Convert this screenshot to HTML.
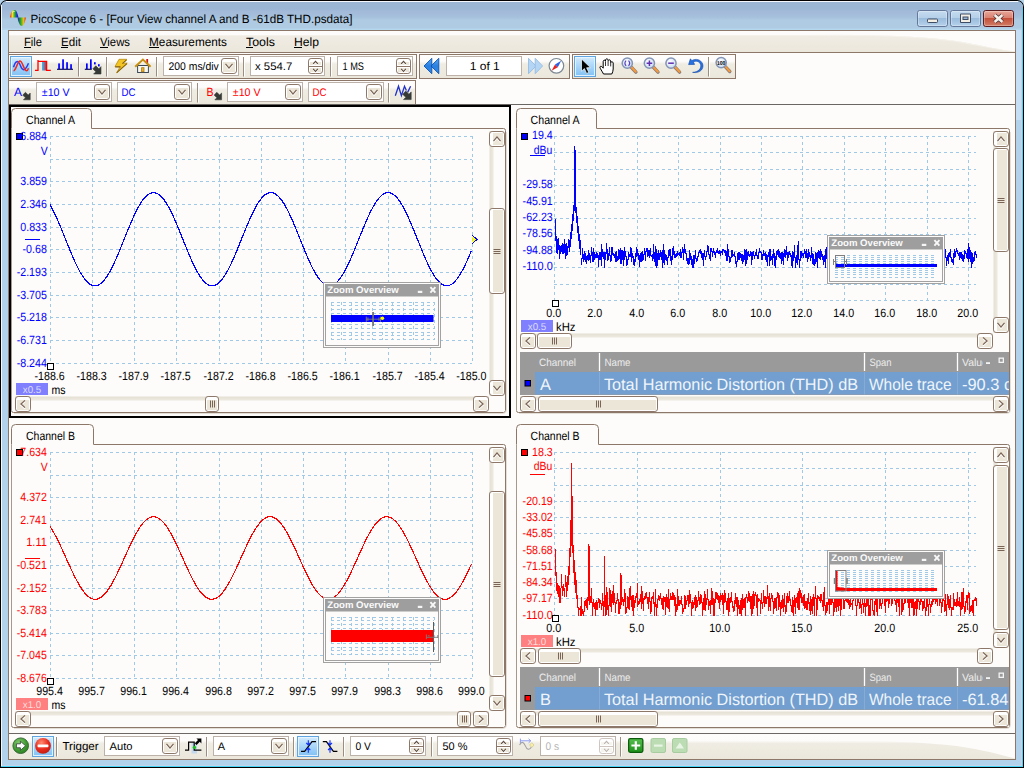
<!DOCTYPE html>
<html lang="en">
<head>
<meta charset="utf-8">
<title>PicoScope 6 - [Four View channel A and B -61dB THD.psdata]</title>
<style>
html,body{margin:0;padding:0;background:#b4d3ea;overflow:hidden}
svg{display:block;font-family:'Liberation Sans', Arial, sans-serif;text-rendering:geometricPrecision}
text{white-space:pre}
</style>
</head>
<body>
<svg width="1024" height="768" viewBox="0 0 1024 768">
<defs>
<linearGradient id="gTitle" x1="0" y1="0" x2="0" y2="1"><stop offset="0" stop-color="#9bb6d5"/><stop offset="0.28" stop-color="#9bb6d5"/><stop offset="0.36" stop-color="#a3bad9"/><stop offset="0.5" stop-color="#a4bedb"/><stop offset="0.58" stop-color="#a6c3dd"/><stop offset="0.66" stop-color="#afcae3"/><stop offset="0.93" stop-color="#afcae3"/><stop offset="0.97" stop-color="#b5d8ef"/><stop offset="1" stop-color="#b5d8ef"/></linearGradient>
<linearGradient id="gMenu" x1="0" y1="0" x2="0" y2="1"><stop offset="0" stop-color="#fdfcfa"/><stop offset="0.2" stop-color="#fdfcfa"/><stop offset="0.24" stop-color="#f0ece4"/><stop offset="1" stop-color="#ebe7db"/></linearGradient>
<linearGradient id="gBar" x1="0" y1="0" x2="0" y2="1"><stop offset="0" stop-color="#fefdfc"/><stop offset="0.28" stop-color="#fdfcfa"/><stop offset="0.4" stop-color="#efece3"/><stop offset="1" stop-color="#ebe7db"/></linearGradient>
<linearGradient id="gBtn" x1="0" y1="0" x2="0" y2="1"><stop offset="0" stop-color="#ffffff"/><stop offset="0.45" stop-color="#f6f4ee"/><stop offset="0.5" stop-color="#eeebe1"/><stop offset="1" stop-color="#e6e1d3"/></linearGradient>
<linearGradient id="gBtnH" x1="0" y1="0" x2="1" y2="0"><stop offset="0" stop-color="#ffffff"/><stop offset="0.45" stop-color="#f6f4ee"/><stop offset="0.5" stop-color="#eeebe1"/><stop offset="1" stop-color="#e6e1d3"/></linearGradient>
<linearGradient id="gSel" x1="0" y1="0" x2="0" y2="1"><stop offset="0" stop-color="#d7ecfc"/><stop offset="0.35" stop-color="#b5dcfa"/><stop offset="1" stop-color="#7fbff3"/></linearGradient>
<linearGradient id="gTrackV" x1="0" y1="0" x2="1" y2="0"><stop offset="0" stop-color="#e4dfd2"/><stop offset="0.6" stop-color="#ece8de"/><stop offset="1" stop-color="#fdfcfb"/></linearGradient>
<linearGradient id="gTrackH" x1="0" y1="0" x2="0" y2="1"><stop offset="0" stop-color="#e4dfd2"/><stop offset="0.6" stop-color="#ece8de"/><stop offset="1" stop-color="#fdfcfb"/></linearGradient>
<linearGradient id="gCapBtn" x1="0" y1="0" x2="0" y2="1"><stop offset="0" stop-color="#c6dcf0"/><stop offset="0.48" stop-color="#b4cfe8"/><stop offset="0.5" stop-color="#9bbcdc"/><stop offset="1" stop-color="#b6d2ec"/></linearGradient>
<linearGradient id="gClose" x1="0" y1="0" x2="0" y2="1"><stop offset="0" stop-color="#e9a99c"/><stop offset="0.48" stop-color="#d9806f"/><stop offset="0.5" stop-color="#c4503a"/><stop offset="1" stop-color="#d27f68"/></linearGradient>
<linearGradient id="gRain" x1="0" y1="0" x2="1" y2="0"><stop offset="0" stop-color="#e8201c"/><stop offset="0.3" stop-color="#f4e020"/><stop offset="0.55" stop-color="#28b428"/><stop offset="0.8" stop-color="#2030d8"/><stop offset="1" stop-color="#1818a0"/></linearGradient>
<linearGradient id="gRain2" x1="0" y1="0" x2="1" y2="0"><stop offset="0" stop-color="#1818c0"/><stop offset="0.35" stop-color="#20a828"/><stop offset="0.7" stop-color="#e8c020"/><stop offset="1" stop-color="#e02818"/></linearGradient>
<linearGradient id="gPulse" x1="0" y1="0" x2="1" y2="0"><stop offset="0" stop-color="#28c0ff"/><stop offset="1" stop-color="#e02030"/></linearGradient>
<linearGradient id="gNav" x1="0" y1="0" x2="0" y2="1"><stop offset="0" stop-color="#58a8f4"/><stop offset="0.5" stop-color="#2a80e0"/><stop offset="1" stop-color="#2f8ae8"/></linearGradient>
<radialGradient id="gLens" cx=".4" cy=".35" r=".7"><stop offset="0" stop-color="#ffffff"/><stop offset="1" stop-color="#c4d8f0"/></radialGradient>
<radialGradient id="gGo" cx=".4" cy=".35" r=".75"><stop offset="0" stop-color="#8fd07a"/><stop offset="0.6" stop-color="#3e9a30"/><stop offset="1" stop-color="#257820"/></radialGradient>
<radialGradient id="gStop" cx=".4" cy=".3" r=".8"><stop offset="0" stop-color="#ff8a70"/><stop offset="0.55" stop-color="#e82a1c"/><stop offset="1" stop-color="#b81810"/></radialGradient>
<linearGradient id="gPlus" x1="0" y1="0" x2="0" y2="1"><stop offset="0" stop-color="#58c050"/><stop offset="1" stop-color="#1c9018"/></linearGradient>
</defs>
<rect x="0" y="0" width="1024" height="768" rx="7" fill="#000" />
<rect x="0" y="20" width="1024" height="748" rx="0" fill="#000" />
<rect x="1" y="1" width="1022" height="766" rx="6" fill="#b4d3ea" />
<rect x="1" y="20" width="1022" height="747" rx="0" fill="#b4d3ea" />
<rect x="1" y="1" width="1022" height="29" rx="6" fill="url(#gTitle)" />
<rect x="1" y="10" width="1022" height="20" rx="0" fill="url(#gTitle2)" />
<rect x="1" y="30" width="8" height="90" rx="0" fill="#c6dff4" />
<rect x="1015" y="30" width="8" height="90" rx="0" fill="#c6dff4" />
<rect x="1" y="120" width="8" height="647" rx="0" fill="#b1d2ea" />
<rect x="1015" y="120" width="8" height="647" rx="0" fill="#b1d2ea" />
<rect x="1" y="760" width="1022" height="7" rx="0" fill="#b1d2ea" />
<line x1="6" y1="1.5" x2="1018" y2="1.5" stroke="#f4f8fc" stroke-width="1" />
<line x1="1.5" y1="5" x2="1.5" y2="766" stroke="#f2f7fc" stroke-width="1" />
<line x1="1022.5" y1="8" x2="1022.5" y2="767" stroke="#46d4f6" stroke-width="1" />
<line x1="1" y1="766.5" x2="1023" y2="766.5" stroke="#46d4f6" stroke-width="1" />
<line x1="1021.5" y1="30" x2="1021.5" y2="766" stroke="#c2d4ea" stroke-width="1" />
<line x1="2" y1="765.5" x2="1022" y2="765.5" stroke="#c2d4ea" stroke-width="1" />
<rect x="8.5" y="30.5" width="1007" height="729" rx="0" fill="#fdfcfa" stroke="#8c7768" stroke-width="1" />
<path d="M10,17.5 C11,11 13,10 14.5,10 C16.5,10 17.5,13 18.5,17.5 Z" fill="url(#gRain)"/>
<path d="M17.5,17.5 C18.5,23 20,26 21.8,26 C23.5,26 25,22 26,17.5 Z" fill="url(#gRain2)"/>
<path d="M12,13 C13,10.5 15,10.5 15.5,12 C14.5,11.5 13,12 12,13Z" fill="#fff" opacity=".7"/>
<text x="30.5" y="23" font-size="12" fill="#000" textLength="322" lengthAdjust="spacingAndGlyphs" >PicoScope 6 - [Four View channel A and B -61dB THD.psdata]</text>
<rect x="917.5" y="10.5" width="30" height="16" rx="2.2" fill="url(#gCapBtn)" stroke="#64789a" stroke-width="1" />
<rect x="918.5" y="11.5" width="28" height="14" rx="1.5" fill="none" stroke="#fff" stroke-opacity=".3"/>
<rect x="927.5" y="19" width="10" height="3.5" rx="0.8" fill="#f4efe4" stroke="#3e4c64" stroke-width="1" />
<rect x="950.5" y="10.5" width="30" height="16" rx="2.2" fill="url(#gCapBtn)" stroke="#64789a" stroke-width="1" />
<rect x="951.5" y="11.5" width="28" height="14" rx="1.5" fill="none" stroke="#fff" stroke-opacity=".3"/>
<rect x="960" y="13.5" width="11" height="9.5" rx="1" fill="#3e4c64" />
<rect x="961" y="14.5" width="9" height="7.5" rx="0" fill="#f4efe4" />
<rect x="963" y="17" width="5" height="2.5" rx="0" fill="#9ab6d6" stroke="#3e4c64" stroke-width="1" />
<rect x="983.5" y="10.5" width="30" height="16" rx="2.2" fill="url(#gClose)" stroke="#5c1c20" stroke-width="1" />
<rect x="984.5" y="11.5" width="28" height="14" rx="1.5" fill="none" stroke="#fff" stroke-opacity=".3"/>
<path d="M994.6,15 L1002.4,22 M1002.4,15 L994.6,22" stroke="#4e3236" stroke-width="4.2"/>
<path d="M994.6,15 L1002.4,22 M1002.4,15 L994.6,22" stroke="#f4efe8" stroke-width="2.6"/>
<rect x="8.5" y="30.5" width="1007" height="22" rx="0" fill="url(#gMenu)" stroke="#8c7768" stroke-width="1" />
<path d="M840,31 L1015,31 L1015,51.5 C1000,50 985,46 960,41.5 C930,37 890,35 840,34.8 Z" fill="#fdfcfa"/>
<path d="M800,35 C880,35.4 930,37.5 960,42.5 C985,47 1000,50.5 1015,51.8 L1015,51.5 C1000,50 985,46 960,41.5 C930,37 890,35 840,34.8 Z" fill="#f5f2ec"/>
<text x="24" y="46" font-size="12" fill="#000" textLength="18" lengthAdjust="spacingAndGlyphs" >File</text>
<line x1="24" y1="47.5" x2="31" y2="47.5" stroke="#000" stroke-width="1" />
<text x="61" y="46" font-size="12" fill="#000" textLength="20" lengthAdjust="spacingAndGlyphs" >Edit</text>
<line x1="61" y1="47.5" x2="68" y2="47.5" stroke="#000" stroke-width="1" />
<text x="100" y="46" font-size="12" fill="#000" textLength="30" lengthAdjust="spacingAndGlyphs" >Views</text>
<line x1="100" y1="47.5" x2="108" y2="47.5" stroke="#000" stroke-width="1" />
<text x="149" y="46" font-size="12" fill="#000" textLength="78" lengthAdjust="spacingAndGlyphs" >Measurements</text>
<line x1="149" y1="47.5" x2="159" y2="47.5" stroke="#000" stroke-width="1" />
<text x="246" y="46" font-size="12" fill="#000" textLength="29" lengthAdjust="spacingAndGlyphs" >Tools</text>
<line x1="246" y1="47.5" x2="253" y2="47.5" stroke="#000" stroke-width="1" />
<text x="294" y="46" font-size="12" fill="#000" textLength="25" lengthAdjust="spacingAndGlyphs" >Help</text>
<line x1="294" y1="47.5" x2="302" y2="47.5" stroke="#000" stroke-width="1" />
<rect x="8.5" y="54.5" width="408" height="24" rx="0" fill="url(#gBar)" stroke="#8c7768" stroke-width="1" />
<rect x="419.5" y="54.5" width="150" height="24" rx="0" fill="url(#gBar)" stroke="#8c7768" stroke-width="1" />
<rect x="572.5" y="54.5" width="163" height="24" rx="0" fill="url(#gBar)" stroke="#8c7768" stroke-width="1" />
<rect x="10.5" y="56.5" width="21" height="20" rx="0" fill="url(#gSel)" stroke="#5fa5e2" stroke-width="1" />
<rect x="11.5" y="57.5" width="19" height="18" fill="none" stroke="#eaf5fe" stroke-opacity=".9"/>
<path d="M13.5,67.3 C15.5,60 18,60 20.5,65.8 C22.5,71.2 25,71.6 28.5,63.2" fill="none" stroke="#2a3cf0" stroke-width="1.5"/>
<path d="M13.5,70.8 C16,70.8 17.5,61 20,61 C22.5,61 24,70.8 26.5,70.8 C27.5,70.8 28,69.8 28.5,68.3" fill="none" stroke="#f02818" stroke-width="1.5"/>
<rect x="42" y="61.5" width="4.5" height="9" rx="0" fill="url(#gPulse)" />
<path d="M35,70.4 H38 V60 M38,61.3 H46.6 V70.4 H50.8" fill="none" stroke="#ff0000" stroke-width="1.3"/>
<rect x="58.2" y="63.4" width="1.7" height="5.6" rx="0" fill="#0000ff" />
<rect x="62.2" y="59.3" width="1.7" height="9.7" rx="0" fill="#0000ff" />
<rect x="66.2" y="62.2" width="1.7" height="6.8" rx="0" fill="#0000ff" />
<rect x="70.2" y="64.2" width="1.7" height="4.8" rx="0" fill="#0000ff" />
<line x1="57" y1="69.3" x2="73" y2="69.3" stroke="#101060" stroke-width="1.2" />
<line x1="78.5" y1="57" x2="78.5" y2="76.5" stroke="#9c8d80" stroke-width="1" />
<line x1="79.5" y1="57" x2="79.5" y2="76.5" stroke="#ffffff" stroke-width="1" />
<rect x="86" y="63.4" width="1.7" height="5.6" rx="0" fill="#0000ff" />
<rect x="90" y="59.3" width="1.7" height="9.7" rx="0" fill="#0000ff" />
<rect x="94" y="62.2" width="1.7" height="2.2" rx="0" fill="#0000ff" />
<rect x="98" y="64.2" width="1.7" height="2.2" rx="0" fill="#0000ff" />
<line x1="84.8" y1="69.3" x2="91.8" y2="69.3" stroke="#101060" stroke-width="1.2" />
<path d="M101,74 l-7.359999999999999,0 l2.1849999999999996,-2.1849999999999996 l-2.9899999999999998,-2.9899999999999998 l2.9899999999999998,-2.9899999999999998 l2.9899999999999998,2.9899999999999998 l2.1849999999999996,-2.1849999999999996 z" fill="#363a36" stroke="#363a36" stroke-width=".6" stroke-linejoin="round"/>
<line x1="106.5" y1="57" x2="106.5" y2="76.5" stroke="#9c8d80" stroke-width="1" />
<line x1="107.5" y1="57" x2="107.5" y2="76.5" stroke="#ffffff" stroke-width="1" />
<path d="M119,59.3 L126.8,59.3 L122.8,63.2 L127.2,63.2 L116.6,72.8 L120.3,66.6 L115,66.6 Z" fill="#f2c424" stroke="#b88a10" stroke-width=".8"/>
<path d="M126.6,59.8 L122.4,63.6 M127,63.7 L116.8,72.6 M115.2,66.9 L120.4,66.9" fill="none" stroke="#8a6408" stroke-width="1.1"/>
<rect x="137.6" y="65.5" width="10.8" height="7" fill="#f6f8f4" stroke="#3c4858" stroke-width="1"/>
<rect x="146.3" y="59" width="1.8" height="4.5" rx="0" fill="#d01818" />
<path d="M135.2,66.8 L142.9,59.6 L150.6,66.8" fill="none" stroke="#c89010" stroke-width="2"/>
<rect x="141.6" y="67.7" width="2.4" height="4" rx="0" fill="#e8b030" stroke="#b07808" stroke-width="0.8" />
<line x1="156.5" y1="57" x2="156.5" y2="76.5" stroke="#9c8d80" stroke-width="1" />
<line x1="157.5" y1="57" x2="157.5" y2="76.5" stroke="#ffffff" stroke-width="1" />
<rect x="163.5" y="56.5" width="75" height="19" rx="0" fill="#fff" stroke="#bcb2aa" stroke-width="1" />
<text x="168.5" y="70" font-size="11" fill="#000" textLength="50.3" lengthAdjust="spacingAndGlyphs" >200 ms/div</text>
<rect x="221.5" y="58.5" width="15" height="15" rx="2.6" fill="#ffffff" stroke="#8c7768" stroke-width="1" />
<rect x="223" y="62" width="12" height="10" rx="0" fill="#ece6d9" />
<path d="M225.5,65.1 L229.0,69.3 L232.5,65.1" fill="none" stroke="#fff" stroke-width="1.25"/>
<path d="M225.5,63.9 L229.0,68.1 L232.5,63.9" fill="none" stroke="#7a6456" stroke-width="1.25"/>
<line x1="243.5" y1="57" x2="243.5" y2="76.5" stroke="#9c8d80" stroke-width="1" />
<line x1="244.5" y1="57" x2="244.5" y2="76.5" stroke="#ffffff" stroke-width="1" />
<rect x="250.5" y="56.5" width="74" height="19" rx="0" fill="#fff" stroke="#bcb2aa" stroke-width="1" />
<text x="255" y="70" font-size="11" fill="#000" textLength="37.3" lengthAdjust="spacingAndGlyphs" >x 554.7</text>
<g>
<rect x="308.5" y="58.5" width="14" height="15" rx="2.6" fill="#fff" stroke="#8c7768" stroke-width="1" />
<rect x="310" y="62" width="11" height="3" rx="0" fill="#ece6d9" />
<rect x="310" y="68" width="11" height="4" rx="0" fill="#ece6d9" />
<line x1="309" y1="66.5" x2="322" y2="66.5" stroke="#8c7768" stroke-width="1" />
<path d="M313.2,65.1 L315.5,62.50000000000001 L317.8,65.1" fill="none" stroke="#fff" stroke-width="1.1"/>
<path d="M313.2,63.9 L315.5,61.300000000000004 L317.8,63.9" fill="none" stroke="#5a4a40" stroke-width="1.1"/>
<path d="M313.2,70.10000000000001 L315.5,72.7 L317.8,70.10000000000001" fill="none" stroke="#fff" stroke-width="1.1"/>
<path d="M313.2,68.9 L315.5,71.5 L317.8,68.9" fill="none" stroke="#5a4a40" stroke-width="1.1"/>
</g>
<line x1="330.5" y1="57" x2="330.5" y2="76.5" stroke="#9c8d80" stroke-width="1" />
<line x1="331.5" y1="57" x2="331.5" y2="76.5" stroke="#ffffff" stroke-width="1" />
<rect x="337.5" y="56.5" width="75" height="19" rx="0" fill="#fff" stroke="#bcb2aa" stroke-width="1" />
<text x="342.5" y="70" font-size="11" fill="#000" textLength="21.5" lengthAdjust="spacingAndGlyphs" >1 MS</text>
<g>
<rect x="396.5" y="58.5" width="14" height="15" rx="2.6" fill="#fff" stroke="#8c7768" stroke-width="1" />
<rect x="398" y="62" width="11" height="3" rx="0" fill="#ece6d9" />
<rect x="398" y="68" width="11" height="4" rx="0" fill="#ece6d9" />
<line x1="397" y1="66.5" x2="410" y2="66.5" stroke="#8c7768" stroke-width="1" />
<path d="M401.2,65.1 L403.5,62.50000000000001 L405.8,65.1" fill="none" stroke="#fff" stroke-width="1.1"/>
<path d="M401.2,63.9 L403.5,61.300000000000004 L405.8,63.9" fill="none" stroke="#5a4a40" stroke-width="1.1"/>
<path d="M401.2,70.10000000000001 L403.5,72.7 L405.8,70.10000000000001" fill="none" stroke="#fff" stroke-width="1.1"/>
<path d="M401.2,68.9 L403.5,71.5 L405.8,68.9" fill="none" stroke="#5a4a40" stroke-width="1.1"/>
</g>
<path d="M424,66 L431.8,58.3 L431.8,73.7 Z" fill="url(#gNav)" stroke="#0c52b4" stroke-width=".9" stroke-linejoin="round"/>
<path d="M431,66 L438.8,58.3 L438.8,73.7 Z" fill="url(#gNav)" stroke="#0c52b4" stroke-width=".9" stroke-linejoin="round"/>
<rect x="446.5" y="56.5" width="75" height="19" rx="0" fill="#fff" stroke="#bcb2aa" stroke-width="1" />
<text x="484.8" y="69.8" font-size="11.5" fill="#000" text-anchor="middle" textLength="30" lengthAdjust="spacingAndGlyphs" >1 of 1</text>
<path d="M536,66 L528.5,58.3 L528.5,73.7 Z" fill="#b4d6f4" stroke="#94bce4" stroke-width=".9" stroke-linejoin="round"/>
<path d="M542.6,66 L535.2,58.3 L535.2,73.7 Z" fill="#b4d6f4" stroke="#94bce4" stroke-width=".9" stroke-linejoin="round"/>
<circle cx="556.4" cy="65.8" r="7.3" fill="#fff" stroke="#7c8894" stroke-width="1.2"/>
<path d="M551.6,70.8 L555,64.6 L557.8,67.2 Z" fill="#e82020"/>
<path d="M561.2,60.8 L557.8,67.2 L555,64.6 Z" fill="#3060e0"/>
<rect x="574.5" y="56.5" width="21" height="20" rx="0" fill="url(#gSel)" stroke="#5fa5e2" stroke-width="1" />
<rect x="575.5" y="57.5" width="19" height="18" fill="none" stroke="#eaf5fe" stroke-opacity=".9"/>
<path d="M581.5,59 L581.5,71.2 L584.4,68.6 L586.6,73.4 L588.8,72.4 L586.6,67.8 L590.4,67.6 Z" fill="#000" stroke="#fff" stroke-width=".7"/>
<path d="M603.5,74 C602,71 600,68.5 599.8,67 C600.5,65.6 602,66.4 603.2,68.2 L603.2,61.2 C603.6,59.8 605.2,59.8 605.4,61.2 L605.6,59.8 C606,58.4 607.8,58.4 608,59.8 L608.2,60.6 C608.8,59.4 610.4,59.6 610.6,61 L610.8,62.4 C611.4,61.4 613,61.6 613.2,63 L613.2,69 C613.2,71 612.4,72.6 611.8,74 Z" fill="#fff" stroke="#000" stroke-width="1"/>
<path d="M605.5,61.5 V66 M608.1,60.8 V66 M610.7,62 V66.4" stroke="#000" stroke-width=".8" fill="none"/>
<path d="M631.0999999999999,67.0 L635.9,72.10000000000001" stroke="#8a7a78" stroke-width="3.4" stroke-linecap="round"/>
<path d="M631.3,67.0 L635.8,71.8" stroke="#f49a3c" stroke-width="2" stroke-linecap="round"/>
<circle cx="627.3" cy="63.2" r="5.1" fill="url(#gLens)" stroke="#8494b4" stroke-width="1.5"/>
<path d="M626.0999999999999,60.6 q-2.4,2.6 0,5.2 M628.5,60.6 q2.4,2.6 0,5.2" stroke="#5a40c0" stroke-width="1.2" fill="none"/>
<path d="M653.1999999999999,67.0 L658.0,72.10000000000001" stroke="#8a7a78" stroke-width="3.4" stroke-linecap="round"/>
<path d="M653.4,67.0 L657.9,71.8" stroke="#f49a3c" stroke-width="2" stroke-linecap="round"/>
<circle cx="649.4" cy="63.2" r="5.1" fill="url(#gLens)" stroke="#8494b4" stroke-width="1.5"/>
<path d="M646.6,63.2 h5.6 M649.4,60.400000000000006 v5.6" stroke="#6030b0" stroke-width="1.5"/>
<path d="M674.8,67.0 L679.6,72.10000000000001" stroke="#8a7a78" stroke-width="3.4" stroke-linecap="round"/>
<path d="M675,67.0 L679.5,71.8" stroke="#f49a3c" stroke-width="2" stroke-linecap="round"/>
<circle cx="671" cy="63.2" r="5.1" fill="url(#gLens)" stroke="#8494b4" stroke-width="1.5"/>
<path d="M668.2,63.2 h5.6" stroke="#6030b0" stroke-width="1.5"/>
<path d="M692.6,72.4 C699,72 701.6,68 700.6,64.6 C699.6,61.4 696,60.4 693.4,62 L694.6,64.4 L688.6,64.6 L690.4,58.8 L691.8,60.6 C695.6,58.2 700.8,59.4 702.6,63.8 C704.2,68.4 700.6,73.6 692.6,72.4 Z" fill="#2870e0" stroke="#1048a8" stroke-width=".6"/>
<line x1="708.5" y1="57" x2="708.5" y2="76.5" stroke="#9c8d80" stroke-width="1" />
<line x1="709.5" y1="57" x2="709.5" y2="76.5" stroke="#ffffff" stroke-width="1" />
<path d="M725.0,66.4 L729.8000000000001,71.5" stroke="#8a7a78" stroke-width="3.4" stroke-linecap="round"/>
<path d="M725.2,66.4 L729.7,71.2" stroke="#f49a3c" stroke-width="2" stroke-linecap="round"/>
<circle cx="721.2" cy="62.6" r="5.1" fill="url(#gLens)" stroke="#8494b4" stroke-width="1.5"/>
<text x="721.2" y="64.6" font-size="5.6" fill="#000" text-anchor="middle" font-weight="bold" textLength="8.4" lengthAdjust="spacingAndGlyphs" >100</text>
<rect x="8.5" y="80.5" width="407" height="24" rx="0" fill="url(#gBar)" stroke="#8c7768" stroke-width="1" />
<text x="14" y="95.6" font-size="12" fill="#0000ff" textLength="8" lengthAdjust="spacingAndGlyphs" >A</text>
<path d="M30.2,99.8 l-6.720000000000001,0 l1.9949999999999999,-1.9949999999999999 l-2.7300000000000004,-2.7300000000000004 l2.7300000000000004,-2.7300000000000004 l2.7300000000000004,2.7300000000000004 l1.9949999999999999,-1.9949999999999999 z" fill="#363a36" stroke="#363a36" stroke-width=".6" stroke-linejoin="round"/>
<rect x="36.5" y="82.5" width="75" height="19" rx="0" fill="#fff" stroke="#bcb2aa" stroke-width="1" />
<text x="41.8" y="95.5" font-size="11" fill="#0000ff" textLength="27.8" lengthAdjust="spacingAndGlyphs" >±10 V</text>
<rect x="94.5" y="84.5" width="15" height="15" rx="2.6" fill="#ffffff" stroke="#8c7768" stroke-width="1" />
<rect x="96" y="88" width="12" height="10" rx="0" fill="#ece6d9" />
<path d="M98.5,91.10000000000001 L102.0,95.3 L105.5,91.10000000000001" fill="none" stroke="#fff" stroke-width="1.25"/>
<path d="M98.5,89.9 L102.0,94.1 L105.5,89.9" fill="none" stroke="#7a6456" stroke-width="1.25"/>
<rect x="117.5" y="82.5" width="74" height="19" rx="0" fill="#fff" stroke="#bcb2aa" stroke-width="1" />
<text x="121.5" y="95.5" font-size="11" fill="#0000ff" textLength="14" lengthAdjust="spacingAndGlyphs" >DC</text>
<rect x="174.5" y="84.5" width="15" height="15" rx="2.6" fill="#ffffff" stroke="#8c7768" stroke-width="1" />
<rect x="176" y="88" width="12" height="10" rx="0" fill="#ece6d9" />
<path d="M178.5,91.10000000000001 L182.0,95.3 L185.5,91.10000000000001" fill="none" stroke="#fff" stroke-width="1.25"/>
<path d="M178.5,89.9 L182.0,94.1 L185.5,89.9" fill="none" stroke="#7a6456" stroke-width="1.25"/>
<line x1="197.5" y1="83" x2="197.5" y2="102.5" stroke="#9c8d80" stroke-width="1" />
<line x1="198.5" y1="83" x2="198.5" y2="102.5" stroke="#ffffff" stroke-width="1" />
<text x="206.6" y="95.6" font-size="12" fill="#ff0000" textLength="7" lengthAdjust="spacingAndGlyphs" >B</text>
<path d="M221.6,99.8 l-6.720000000000001,0 l1.9949999999999999,-1.9949999999999999 l-2.7300000000000004,-2.7300000000000004 l2.7300000000000004,-2.7300000000000004 l2.7300000000000004,2.7300000000000004 l1.9949999999999999,-1.9949999999999999 z" fill="#363a36" stroke="#363a36" stroke-width=".6" stroke-linejoin="round"/>
<rect x="227.5" y="82.5" width="75" height="19" rx="0" fill="#fff" stroke="#bcb2aa" stroke-width="1" />
<text x="232.8" y="95.5" font-size="11" fill="#ff0000" textLength="27.8" lengthAdjust="spacingAndGlyphs" >±10 V</text>
<rect x="285.5" y="84.5" width="15" height="15" rx="2.6" fill="#ffffff" stroke="#8c7768" stroke-width="1" />
<rect x="287" y="88" width="12" height="10" rx="0" fill="#ece6d9" />
<path d="M289.5,91.10000000000001 L293.0,95.3 L296.5,91.10000000000001" fill="none" stroke="#fff" stroke-width="1.25"/>
<path d="M289.5,89.9 L293.0,94.1 L296.5,89.9" fill="none" stroke="#7a6456" stroke-width="1.25"/>
<rect x="308.5" y="82.5" width="75" height="19" rx="0" fill="#fff" stroke="#bcb2aa" stroke-width="1" />
<text x="312.5" y="95.5" font-size="11" fill="#ff0000" textLength="14" lengthAdjust="spacingAndGlyphs" >DC</text>
<rect x="366.5" y="84.5" width="15" height="15" rx="2.6" fill="#ffffff" stroke="#8c7768" stroke-width="1" />
<rect x="368" y="88" width="12" height="10" rx="0" fill="#ece6d9" />
<path d="M370.5,91.10000000000001 L374.0,95.3 L377.5,91.10000000000001" fill="none" stroke="#fff" stroke-width="1.25"/>
<path d="M370.5,89.9 L374.0,94.1 L377.5,89.9" fill="none" stroke="#7a6456" stroke-width="1.25"/>
<line x1="388.5" y1="83" x2="388.5" y2="102.5" stroke="#9c8d80" stroke-width="1" />
<line x1="389.5" y1="83" x2="389.5" y2="102.5" stroke="#ffffff" stroke-width="1" />
<path d="M395.3,95.8 L398.5,86.2 L401.4,95.6 L404.5,86.2 L406.4,90.4 M407.6,92.4 L410.6,86.2" fill="none" stroke="#2030c8" stroke-width="1.3"/>
<path d="M411.2,99.6 l-7.68,0 l2.28,-2.28 l-3.12,-3.12 l3.12,-3.12 l3.12,3.12 l2.28,-2.28 z" fill="#363a36" stroke="#363a36" stroke-width=".6" stroke-linejoin="round"/>
<line x1="9" y1="104.5" x2="1015" y2="104.5" stroke="#6a6664" stroke-width="1" />
<rect x="10" y="106" width="500" height="311" rx="0" fill="none" stroke="#000" stroke-width="2" />
<path d="M91.5,128.5 H503.5 q2,0 2,2 V410.5 q0,2 -2,2 H13.5 q-2,0 -2,-2" fill="none" stroke="#8c7768"/>
<path d="M11.5,410.5 V128.5" fill="none" stroke="#a6988c"/>
<path d="M14,413.5 H503 q3.5,0 3.5,-3.5 V132" fill="none" stroke="#e4dfd6"/>
<path d="M11.5,128.5 V112.5 q0,-4 4,-4 H87.5 q4,0 4,4 V128.5" fill="#fdfcfa" stroke="#8c7768"/>
<text x="26" y="123.9" font-size="12" fill="#000" textLength="49" lengthAdjust="spacingAndGlyphs" >Channel A</text>
<path d="M50,136.5H472M50,159.5H472M50,181.5H472M50,204.5H472M50,227.5H472M50,249.5H472M50,272.5H472M50,295.5H472M50,317.5H472M50,340.5H472M50,363.5H472M50.5,136V363M92.5,136V363M134.5,136V363M176.5,136V363M219.5,136V363M261.5,136V363M303.5,136V363M345.5,136V363M388.5,136V363M430.5,136V363M472.5,136V363" fill="none" stroke="#9fc9e6" stroke-dasharray="3 3" shape-rendering="crispEdges"/>
<rect x="16.5" y="133.5" width="6" height="6" rx="0" fill="#0000ff" stroke="#000" stroke-width="1" />
<text x="46.9" y="139.8" font-size="12" fill="#0000ff" text-anchor="end" textLength="26.6" lengthAdjust="spacingAndGlyphs" >6.884</text>
<text x="47.8" y="154.6" font-size="12" fill="#0000ff" text-anchor="end" textLength="7" lengthAdjust="spacingAndGlyphs" >V</text>
<text x="46.9" y="185.4" font-size="12" fill="#0000ff" text-anchor="end" textLength="26.6" lengthAdjust="spacingAndGlyphs" >3.859</text>
<text x="46.9" y="208.4" font-size="12" fill="#0000ff" text-anchor="end" textLength="26.6" lengthAdjust="spacingAndGlyphs" >2.346</text>
<text x="46.9" y="231.4" font-size="12" fill="#0000ff" text-anchor="end" textLength="26.6" lengthAdjust="spacingAndGlyphs" >0.833</text>
<text x="46.9" y="253.4" font-size="12" fill="#0000ff" text-anchor="end" textLength="24.35" lengthAdjust="spacingAndGlyphs" >-0.68</text>
<text x="46.9" y="276.4" font-size="12" fill="#0000ff" text-anchor="end" textLength="30.2" lengthAdjust="spacingAndGlyphs" >-2.193</text>
<text x="46.9" y="299.4" font-size="12" fill="#0000ff" text-anchor="end" textLength="30.2" lengthAdjust="spacingAndGlyphs" >-3.705</text>
<text x="46.9" y="321.4" font-size="12" fill="#0000ff" text-anchor="end" textLength="30.2" lengthAdjust="spacingAndGlyphs" >-5.218</text>
<text x="46.9" y="344.4" font-size="12" fill="#0000ff" text-anchor="end" textLength="30.2" lengthAdjust="spacingAndGlyphs" >-6.731</text>
<text x="46.9" y="367.4" font-size="12" fill="#0000ff" text-anchor="end" textLength="30.2" lengthAdjust="spacingAndGlyphs" >-8.244</text>
<line x1="25" y1="239.5" x2="40" y2="239.5" stroke="#0000ff" stroke-width="1" />
<polyline points="50.0,204.76 51.5,207.39 53.0,210.23 54.5,213.25 56.0,216.44 57.5,219.78 59.0,223.24 60.5,226.81 62.0,230.45 63.5,234.16 65.0,237.89 66.5,241.63 68.0,245.36 69.5,249.05 71.0,252.67 72.5,256.21 74.0,259.64 75.5,262.93 77.0,266.07 78.5,269.04 80.0,271.82 81.5,274.38 83.0,276.72 84.5,278.82 86.0,280.66 87.5,282.23 89.0,283.53 90.5,284.54 92.0,285.26 93.5,285.68 95.0,285.80 96.5,285.62 98.0,285.14 99.5,284.36 101.0,283.29 102.5,281.94 104.0,280.31 105.5,278.42 107.0,276.27 108.5,273.89 110.0,271.28 111.5,268.46 113.0,265.46 114.5,262.28 116.0,258.96 117.5,255.51 119.0,251.95 120.5,248.31 122.0,244.62 123.5,240.88 125.0,237.14 126.5,233.41 128.0,229.72 129.5,226.09 131.0,222.54 132.5,219.10 134.0,215.79 135.5,212.63 137.0,209.65 138.5,206.85 140.0,204.26 141.5,201.90 143.0,199.78 144.5,197.91 146.0,196.31 147.5,194.99 149.0,193.95 150.5,193.20 152.0,192.75 153.5,192.60 155.0,192.75 156.5,193.20 158.0,193.95 159.5,194.99 161.0,196.31 162.5,197.91 164.0,199.78 165.5,201.90 167.0,204.26 168.5,206.85 170.0,209.65 171.5,212.63 173.0,215.79 174.5,219.10 176.0,222.54 177.5,226.09 179.0,229.72 180.5,233.41 182.0,237.14 183.5,240.88 185.0,244.62 186.5,248.31 188.0,251.95 189.5,255.51 191.0,258.96 192.5,262.28 194.0,265.46 195.5,268.46 197.0,271.28 198.5,273.89 200.0,276.27 201.5,278.42 203.0,280.31 204.5,281.94 206.0,283.29 207.5,284.36 209.0,285.14 210.5,285.62 212.0,285.80 213.5,285.68 215.0,285.26 216.5,284.54 218.0,283.53 219.5,282.23 221.0,280.66 222.5,278.82 224.0,276.72 225.5,274.38 227.0,271.82 228.5,269.04 230.0,266.07 231.5,262.93 233.0,259.64 234.5,256.21 236.0,252.67 237.5,249.05 239.0,245.36 240.5,241.63 242.0,237.89 243.5,234.16 245.0,230.45 246.5,226.81 248.0,223.24 249.5,219.78 251.0,216.44 252.5,213.25 254.0,210.23 255.5,207.39 257.0,204.76 258.5,202.35 260.0,200.18 261.5,198.26 263.0,196.61 264.5,195.23 266.0,194.13 267.5,193.33 269.0,192.82 270.5,192.61 272.0,192.70 273.5,193.09 275.0,193.77 276.5,194.76 278.0,196.02 279.5,197.57 281.0,199.38 282.5,201.46 284.0,203.77 285.5,206.32 287.0,209.07 288.5,212.02 290.0,215.15 291.5,218.43 293.0,221.84 294.5,225.37 296.0,228.99 297.5,232.67 299.0,236.39 300.5,240.14 302.0,243.87 303.5,247.58 305.0,251.23 306.5,254.81 308.0,258.28 309.5,261.63 311.0,264.84 312.5,267.88 314.0,270.73 315.5,273.38 317.0,275.82 318.5,278.01 320.0,279.96 321.5,281.64 323.0,283.05 324.5,284.17 326.0,285.01 327.5,285.55 329.0,285.79 330.5,285.73 332.0,285.37 333.5,284.71 335.0,283.76 336.5,282.52 338.0,281.00 339.5,279.21 341.0,277.16 342.5,274.87 344.0,272.35 345.5,269.61 347.0,266.68 348.5,263.57 350.0,260.31 351.5,256.90 353.0,253.39 354.5,249.78 356.0,246.10 357.5,242.38 359.0,238.64 360.5,234.90 362.0,231.19 363.5,227.53 365.0,223.95 366.5,220.46 368.0,217.10 369.5,213.88 371.0,210.82 372.5,207.94 374.0,205.27 375.5,202.82 377.0,200.60 378.5,198.63 380.0,196.92 381.5,195.48 383.0,194.33 384.5,193.46 386.0,192.89 387.5,192.62 389.0,192.65 390.5,192.98 392.0,193.61 393.5,194.54 395.0,195.75 396.5,197.24 398.0,199.00 399.5,201.02 401.0,203.29 402.5,205.79 404.0,208.50 405.5,211.42 407.0,214.51 408.5,217.76 410.0,221.15 411.5,224.66 413.0,228.26 414.5,231.93 416.0,235.65 417.5,239.39 419.0,243.13 420.5,246.84 422.0,250.51 423.5,254.10 425.0,257.59 426.5,260.97 428.0,264.21 429.5,267.28 431.0,270.18 432.5,272.87 434.0,275.35 435.5,277.59 437.0,279.59 438.5,281.32 440.0,282.79 441.5,283.97 443.0,284.86 444.5,285.46 446.0,285.76 447.5,285.76 449.0,285.46 450.5,284.86 452.0,283.97 453.5,282.79 455.0,281.32 456.5,279.59 458.0,277.59 459.5,275.35 461.0,272.87 462.5,270.18 464.0,267.28 465.5,264.21 467.0,260.97 468.5,257.59 470.0,254.10 471.5,250.51" fill="none" stroke="#0000ff" stroke-width="1.2" shape-rendering="crispEdges"/>
<path d="M472.5,235.5 L477,239.5 L472.5,243.5 Z" fill="#ffff00"/>
<path d="M472.5,235.5 L477,239.5 L472.5,243.5" fill="none" stroke="#0000ff" stroke-width="1" shape-rendering="crispEdges"/>
<rect x="47.5" y="363.5" width="6" height="6" rx="0" fill="#fff" stroke="#000" stroke-width="1" />
<text x="49.6" y="379.6" font-size="12" fill="#000" text-anchor="middle" textLength="30.2" lengthAdjust="spacingAndGlyphs" >-188.6</text>
<text x="91.6" y="379.6" font-size="12" fill="#000" text-anchor="middle" textLength="30.2" lengthAdjust="spacingAndGlyphs" >-188.3</text>
<text x="133.6" y="379.6" font-size="12" fill="#000" text-anchor="middle" textLength="30.2" lengthAdjust="spacingAndGlyphs" >-187.9</text>
<text x="175.6" y="379.6" font-size="12" fill="#000" text-anchor="middle" textLength="30.2" lengthAdjust="spacingAndGlyphs" >-187.5</text>
<text x="218.6" y="379.6" font-size="12" fill="#000" text-anchor="middle" textLength="30.2" lengthAdjust="spacingAndGlyphs" >-187.2</text>
<text x="260.6" y="379.6" font-size="12" fill="#000" text-anchor="middle" textLength="30.2" lengthAdjust="spacingAndGlyphs" >-186.8</text>
<text x="302.6" y="379.6" font-size="12" fill="#000" text-anchor="middle" textLength="30.2" lengthAdjust="spacingAndGlyphs" >-186.5</text>
<text x="344.6" y="379.6" font-size="12" fill="#000" text-anchor="middle" textLength="30.2" lengthAdjust="spacingAndGlyphs" >-186.1</text>
<text x="387.6" y="379.6" font-size="12" fill="#000" text-anchor="middle" textLength="30.2" lengthAdjust="spacingAndGlyphs" >-185.7</text>
<text x="429.6" y="379.6" font-size="12" fill="#000" text-anchor="middle" textLength="30.2" lengthAdjust="spacingAndGlyphs" >-185.4</text>
<text x="471.4" y="379.6" font-size="12" fill="#000" text-anchor="middle" textLength="30.2" lengthAdjust="spacingAndGlyphs" >-185.0</text>
<rect x="16" y="383" width="32" height="12" rx="0" fill="#8080ff" />
<text x="32" y="392.7" font-size="10" fill="#dcdcff" text-anchor="middle" textLength="18.5" lengthAdjust="spacingAndGlyphs" >x0.5</text>
<text x="51.4" y="394.2" font-size="12" fill="#000" textLength="14" lengthAdjust="spacingAndGlyphs" >ms</text>
<rect x="489" y="131" width="16" height="265" rx="0" fill="#fdfcfb" />
<rect x="489.5" y="131" width="5" height="265" rx="0" fill="url(#gTrackV)" />
<rect x="489.5" y="131.5" width="15" height="15" rx="2.6" fill="#ffffff" stroke="#8c7768" stroke-width="1" />
<rect x="493" y="133" width="10" height="12" rx="0" fill="#ece6d9" />
<path d="M493.5,142.29999999999998 L497.0,138.1 L500.5,142.29999999999998" fill="none" stroke="#fff" stroke-width="1.25"/>
<path d="M493.5,141.1 L497.0,136.9 L500.5,141.1" fill="none" stroke="#7a6456" stroke-width="1.25"/>
<rect x="489.5" y="380.5" width="15" height="15" rx="2.6" fill="#ffffff" stroke="#8c7768" stroke-width="1" />
<rect x="493" y="382" width="10" height="12" rx="0" fill="#ece6d9" />
<path d="M493.5,387.09999999999997 L497.0,391.3 L500.5,387.09999999999997" fill="none" stroke="#fff" stroke-width="1.25"/>
<path d="M493.5,385.9 L497.0,390.1 L500.5,385.9" fill="none" stroke="#7a6456" stroke-width="1.25"/>
<rect x="489.5" y="208.5" width="15" height="85" rx="2.6" fill="#ffffff" stroke="#8c7768" stroke-width="1" />
<rect x="493" y="210" width="10" height="82" rx="0" fill="#ece6d9" />
<line x1="493.5" y1="249.5" x2="500.5" y2="249.5" stroke="#7a6456" stroke-width="1" />
<line x1="493.5" y1="251.5" x2="500.5" y2="251.5" stroke="#7a6456" stroke-width="1" />
<line x1="493.5" y1="253.5" x2="500.5" y2="253.5" stroke="#7a6456" stroke-width="1" />
<rect x="15" y="396" width="474" height="16" rx="0" fill="#fdfcfb" />
<rect x="15" y="396.5" width="474" height="5" rx="0" fill="url(#gTrackH)" />
<rect x="15.5" y="396.5" width="15" height="15" rx="2.6" fill="#ffffff" stroke="#8c7768" stroke-width="1" />
<rect x="17" y="400" width="12" height="10" rx="0" fill="#ece6d9" />
<path d="M25.0,401.59999999999997 L21.0,405.2 L25.0,408.8" fill="none" stroke="#fff" stroke-width="1.25"/>
<path d="M25.0,400.4 L21.0,404.0 L25.0,407.6" fill="none" stroke="#7a6456" stroke-width="1.25"/>
<rect x="473.5" y="396.5" width="15" height="15" rx="2.6" fill="#ffffff" stroke="#8c7768" stroke-width="1" />
<rect x="475" y="400" width="12" height="10" rx="0" fill="#ece6d9" />
<path d="M479.0,401.59999999999997 L483.0,405.2 L479.0,408.8" fill="none" stroke="#fff" stroke-width="1.25"/>
<path d="M479.0,400.4 L483.0,404.0 L479.0,407.6" fill="none" stroke="#7a6456" stroke-width="1.25"/>
<rect x="205.5" y="396.5" width="13" height="15" rx="2.6" fill="#ffffff" stroke="#8c7768" stroke-width="1" />
<rect x="207" y="400" width="10" height="10" rx="0" fill="#ece6d9" />
<line x1="210.5" y1="400.5" x2="210.5" y2="407.5" stroke="#7a6456" stroke-width="1" />
<line x1="212.5" y1="400.5" x2="212.5" y2="407.5" stroke="#7a6456" stroke-width="1" />
<line x1="214.5" y1="400.5" x2="214.5" y2="407.5" stroke="#7a6456" stroke-width="1" />
<path d="M93.5,444.5 H503.5 q2,0 2,2 V725.5 q0,2 -2,2 H13.5 q-2,0 -2,-2" fill="none" stroke="#8c7768"/>
<path d="M11.5,725.5 V444.5" fill="none" stroke="#a6988c"/>
<path d="M14,728.5 H503 q3.5,0 3.5,-3.5 V448" fill="none" stroke="#e4dfd6"/>
<path d="M11.5,444.5 V428.5 q0,-4 4,-4 H89.5 q4,0 4,4 V444.5" fill="#fdfcfa" stroke="#8c7768"/>
<text x="26" y="439.9" font-size="12" fill="#000" textLength="49" lengthAdjust="spacingAndGlyphs" >Channel B</text>
<path d="M50,452.5H472M50,475.5H472M50,497.5H472M50,520.5H472M50,542.5H472M50,565.5H472M50,588.5H472M50,610.5H472M50,633.5H472M50,655.5H472M50,678.5H472M50.5,452V678M92.5,452V678M134.5,452V678M176.5,452V678M219.5,452V678M261.5,452V678M303.5,452V678M345.5,452V678M388.5,452V678M430.5,452V678M472.5,452V678" fill="none" stroke="#9fc9e6" stroke-dasharray="3 3" shape-rendering="crispEdges"/>
<rect x="16.5" y="449.5" width="6" height="6" rx="0" fill="#ff0000" stroke="#000" stroke-width="1" />
<text x="46.9" y="455.8" font-size="12" fill="#ff0000" text-anchor="end" textLength="26.6" lengthAdjust="spacingAndGlyphs" >7.634</text>
<text x="47.8" y="470.6" font-size="12" fill="#ff0000" text-anchor="end" textLength="7" lengthAdjust="spacingAndGlyphs" >V</text>
<text x="46.9" y="501.4" font-size="12" fill="#ff0000" text-anchor="end" textLength="26.6" lengthAdjust="spacingAndGlyphs" >4.372</text>
<text x="46.9" y="524.4" font-size="12" fill="#ff0000" text-anchor="end" textLength="26.6" lengthAdjust="spacingAndGlyphs" >2.741</text>
<text x="46.9" y="546.4" font-size="12" fill="#ff0000" text-anchor="end" textLength="20.75" lengthAdjust="spacingAndGlyphs" >1.11</text>
<text x="46.9" y="569.4" font-size="12" fill="#ff0000" text-anchor="end" textLength="30.2" lengthAdjust="spacingAndGlyphs" >-0.521</text>
<text x="46.9" y="592.4" font-size="12" fill="#ff0000" text-anchor="end" textLength="30.2" lengthAdjust="spacingAndGlyphs" >-2.152</text>
<text x="46.9" y="614.4" font-size="12" fill="#ff0000" text-anchor="end" textLength="30.2" lengthAdjust="spacingAndGlyphs" >-3.783</text>
<text x="46.9" y="637.4" font-size="12" fill="#ff0000" text-anchor="end" textLength="30.2" lengthAdjust="spacingAndGlyphs" >-5.414</text>
<text x="46.9" y="659.4" font-size="12" fill="#ff0000" text-anchor="end" textLength="30.2" lengthAdjust="spacingAndGlyphs" >-7.045</text>
<text x="46.9" y="682.4" font-size="12" fill="#ff0000" text-anchor="end" textLength="30.2" lengthAdjust="spacingAndGlyphs" >-8.676</text>
<line x1="25" y1="558.5" x2="40" y2="558.5" stroke="#ff0000" stroke-width="1" />
<polyline points="50.0,526.57 51.5,528.84 53.0,531.29 54.5,533.92 56.0,536.71 57.5,539.64 59.0,542.68 60.5,545.83 62.0,549.06 63.5,552.34 65.0,555.66 66.5,559.00 68.0,562.33 69.5,565.63 71.0,568.89 72.5,572.07 74.0,575.16 75.5,578.13 77.0,580.98 78.5,583.68 80.0,586.20 81.5,588.55 83.0,590.69 84.5,592.62 86.0,594.33 87.5,595.80 89.0,597.02 90.5,597.98 92.0,598.69 93.5,599.13 95.0,599.30 96.5,599.20 98.0,598.83 99.5,598.20 101.0,597.30 102.5,596.15 104.0,594.74 105.5,593.10 107.0,591.23 108.5,589.14 110.0,586.85 111.5,584.37 113.0,581.71 114.5,578.91 116.0,575.96 117.5,572.90 119.0,569.74 120.5,566.51 122.0,563.22 123.5,559.89 125.0,556.55 126.5,553.23 128.0,549.93 129.5,546.69 131.0,543.52 132.5,540.44 134.0,537.48 135.5,534.65 137.0,531.98 138.5,529.47 140.0,527.15 141.5,525.04 143.0,523.14 144.5,521.46 146.0,520.03 147.5,518.84 149.0,517.91 150.5,517.24 152.0,516.83 153.5,516.70 155.0,516.83 156.5,517.24 158.0,517.91 159.5,518.84 161.0,520.03 162.5,521.46 164.0,523.14 165.5,525.04 167.0,527.15 168.5,529.47 170.0,531.98 171.5,534.65 173.0,537.48 174.5,540.44 176.0,543.52 177.5,546.69 179.0,549.93 180.5,553.23 182.0,556.55 183.5,559.89 185.0,563.22 186.5,566.51 188.0,569.74 189.5,572.90 191.0,575.96 192.5,578.91 194.0,581.71 195.5,584.37 197.0,586.85 198.5,589.14 200.0,591.23 201.5,593.10 203.0,594.74 204.5,596.15 206.0,597.30 207.5,598.20 209.0,598.83 210.5,599.20 212.0,599.30 213.5,599.13 215.0,598.69 216.5,597.98 218.0,597.02 219.5,595.80 221.0,594.33 222.5,592.62 224.0,590.69 225.5,588.55 227.0,586.20 228.5,583.68 230.0,580.98 231.5,578.13 233.0,575.16 234.5,572.07 236.0,568.89 237.5,565.63 239.0,562.33 240.5,559.00 242.0,555.66 243.5,552.34 245.0,549.06 246.5,545.83 248.0,542.68 249.5,539.64 251.0,536.71 252.5,533.92 254.0,531.29 255.5,528.84 257.0,526.57 258.5,524.51 260.0,522.67 261.5,521.06 263.0,519.69 264.5,518.57 266.0,517.70 267.5,517.10 269.0,516.77 270.5,516.71 272.0,516.92 273.5,517.39 275.0,518.13 276.5,519.13 278.0,520.39 279.5,521.89 281.0,523.62 282.5,525.58 284.0,527.75 285.5,530.12 287.0,532.67 288.5,535.39 290.0,538.26 291.5,541.25 293.0,544.35 294.5,547.54 296.0,550.80 297.5,554.11 299.0,557.44 300.5,560.78 302.0,564.10 303.5,567.38 305.0,570.59 306.5,573.73 308.0,576.76 309.5,579.67 311.0,582.44 312.5,585.05 314.0,587.48 315.5,589.72 317.0,591.75 318.5,593.56 320.0,595.14 321.5,596.48 323.0,597.56 324.5,598.39 326.0,598.96 327.5,599.25 329.0,599.28 330.5,599.04 332.0,598.53 333.5,597.75 335.0,596.72 336.5,595.43 338.0,593.90 339.5,592.13 341.0,590.14 342.5,587.94 344.0,585.55 345.5,582.97 347.0,580.23 348.5,577.35 350.0,574.34 351.5,571.23 353.0,568.02 354.5,564.76 356.0,561.45 357.5,558.11 359.0,554.78 360.5,551.46 362.0,548.19 363.5,544.98 365.0,541.86 366.5,538.84 368.0,535.95 369.5,533.21 371.0,530.62 372.5,528.21 374.0,526.00 375.5,524.00 377.0,522.21 378.5,520.67 380.0,519.36 381.5,518.31 383.0,517.52 384.5,516.99 386.0,516.73 387.5,516.74 389.0,517.02 390.5,517.56 392.0,518.37 393.5,519.44 395.0,520.76 396.5,522.33 398.0,524.12 399.5,526.14 401.0,528.37 402.5,530.79 404.0,533.38 405.5,536.14 407.0,539.04 408.5,542.07 410.0,545.20 411.5,548.41 413.0,551.68 414.5,555.00 416.0,558.33 417.5,561.67 419.0,564.98 420.5,568.24 422.0,571.44 423.5,574.55 425.0,577.55 426.5,580.42 428.0,583.15 429.5,585.71 431.0,588.09 432.5,590.28 434.0,592.25 435.5,594.01 437.0,595.52 438.5,596.79 440.0,597.81 441.5,598.57 443.0,599.06 444.5,599.29 446.0,599.24 447.5,598.93 449.0,598.34 450.5,597.50 452.0,596.40 453.5,595.04 455.0,593.45 456.5,591.62 458.0,589.57 459.5,587.32 461.0,584.88 462.5,582.26 464.0,579.48 465.5,576.56 467.0,573.52 468.5,570.38 470.0,567.16 471.5,563.88" fill="none" stroke="#ff0000" stroke-width="1.2" shape-rendering="crispEdges"/>
<rect x="47.5" y="678.5" width="6" height="6" rx="0" fill="#fff" stroke="#000" stroke-width="1" />
<text x="49.6" y="694.6" font-size="12" fill="#000" text-anchor="middle" textLength="26.6" lengthAdjust="spacingAndGlyphs" >995.4</text>
<text x="91.6" y="694.6" font-size="12" fill="#000" text-anchor="middle" textLength="26.6" lengthAdjust="spacingAndGlyphs" >995.7</text>
<text x="133.6" y="694.6" font-size="12" fill="#000" text-anchor="middle" textLength="26.6" lengthAdjust="spacingAndGlyphs" >996.1</text>
<text x="175.6" y="694.6" font-size="12" fill="#000" text-anchor="middle" textLength="26.6" lengthAdjust="spacingAndGlyphs" >996.4</text>
<text x="218.6" y="694.6" font-size="12" fill="#000" text-anchor="middle" textLength="26.6" lengthAdjust="spacingAndGlyphs" >996.8</text>
<text x="260.6" y="694.6" font-size="12" fill="#000" text-anchor="middle" textLength="26.6" lengthAdjust="spacingAndGlyphs" >997.2</text>
<text x="302.6" y="694.6" font-size="12" fill="#000" text-anchor="middle" textLength="26.6" lengthAdjust="spacingAndGlyphs" >997.5</text>
<text x="344.6" y="694.6" font-size="12" fill="#000" text-anchor="middle" textLength="26.6" lengthAdjust="spacingAndGlyphs" >997.9</text>
<text x="387.6" y="694.6" font-size="12" fill="#000" text-anchor="middle" textLength="26.6" lengthAdjust="spacingAndGlyphs" >998.3</text>
<text x="429.6" y="694.6" font-size="12" fill="#000" text-anchor="middle" textLength="26.6" lengthAdjust="spacingAndGlyphs" >998.6</text>
<text x="471.4" y="694.6" font-size="12" fill="#000" text-anchor="middle" textLength="26.6" lengthAdjust="spacingAndGlyphs" >999.0</text>
<rect x="16" y="698" width="32" height="12" rx="0" fill="#ff8080" />
<text x="32" y="707.7" font-size="10" fill="#ffdcdc" text-anchor="middle" textLength="18.5" lengthAdjust="spacingAndGlyphs" >x1.0</text>
<text x="51.4" y="709.2" font-size="12" fill="#000" textLength="14" lengthAdjust="spacingAndGlyphs" >ms</text>
<rect x="489" y="447" width="16" height="264" rx="0" fill="#fdfcfb" />
<rect x="489.5" y="447" width="5" height="264" rx="0" fill="url(#gTrackV)" />
<rect x="489.5" y="447.5" width="15" height="15" rx="2.6" fill="#ffffff" stroke="#8c7768" stroke-width="1" />
<rect x="493" y="449" width="10" height="12" rx="0" fill="#ece6d9" />
<path d="M493.5,458.3 L497.0,454.09999999999997 L500.5,458.3" fill="none" stroke="#fff" stroke-width="1.25"/>
<path d="M493.5,457.1 L497.0,452.9 L500.5,457.1" fill="none" stroke="#7a6456" stroke-width="1.25"/>
<rect x="489.5" y="695.5" width="15" height="15" rx="2.6" fill="#ffffff" stroke="#8c7768" stroke-width="1" />
<rect x="493" y="697" width="10" height="12" rx="0" fill="#ece6d9" />
<path d="M493.5,702.1 L497.0,706.3000000000001 L500.5,702.1" fill="none" stroke="#fff" stroke-width="1.25"/>
<path d="M493.5,700.9 L497.0,705.1 L500.5,700.9" fill="none" stroke="#7a6456" stroke-width="1.25"/>
<rect x="489.5" y="491.5" width="15" height="185" rx="2.6" fill="#ffffff" stroke="#8c7768" stroke-width="1" />
<rect x="493" y="493" width="10" height="182" rx="0" fill="#ece6d9" />
<line x1="493.5" y1="582.5" x2="500.5" y2="582.5" stroke="#7a6456" stroke-width="1" />
<line x1="493.5" y1="584.5" x2="500.5" y2="584.5" stroke="#7a6456" stroke-width="1" />
<line x1="493.5" y1="586.5" x2="500.5" y2="586.5" stroke="#7a6456" stroke-width="1" />
<rect x="15" y="711" width="474" height="16" rx="0" fill="#fdfcfb" />
<rect x="15" y="711.5" width="474" height="5" rx="0" fill="url(#gTrackH)" />
<rect x="15.5" y="711.5" width="15" height="15" rx="2.6" fill="#ffffff" stroke="#8c7768" stroke-width="1" />
<rect x="17" y="715" width="12" height="10" rx="0" fill="#ece6d9" />
<path d="M25.0,716.6 L21.0,720.2 L25.0,723.8000000000001" fill="none" stroke="#fff" stroke-width="1.25"/>
<path d="M25.0,715.4 L21.0,719.0 L25.0,722.6" fill="none" stroke="#7a6456" stroke-width="1.25"/>
<rect x="473.5" y="711.5" width="15" height="15" rx="2.6" fill="#ffffff" stroke="#8c7768" stroke-width="1" />
<rect x="475" y="715" width="12" height="10" rx="0" fill="#ece6d9" />
<path d="M479.0,716.6 L483.0,720.2 L479.0,723.8000000000001" fill="none" stroke="#fff" stroke-width="1.25"/>
<path d="M479.0,715.4 L483.0,719.0 L479.0,722.6" fill="none" stroke="#7a6456" stroke-width="1.25"/>
<rect x="457.5" y="711.5" width="13" height="15" rx="2.6" fill="#ffffff" stroke="#8c7768" stroke-width="1" />
<rect x="459" y="715" width="10" height="10" rx="0" fill="#ece6d9" />
<line x1="462.5" y1="715.5" x2="462.5" y2="722.5" stroke="#7a6456" stroke-width="1" />
<line x1="464.5" y1="715.5" x2="464.5" y2="722.5" stroke="#7a6456" stroke-width="1" />
<line x1="466.5" y1="715.5" x2="466.5" y2="722.5" stroke="#7a6456" stroke-width="1" />
<rect x="323.5" y="282.5" width="117" height="65" rx="0" fill="#fdfcfa" stroke="#a2a2a2" stroke-width="1" />
<rect x="325.5" y="284.5" width="113" height="61" rx="0" fill="#fdfcfa" stroke="#a2a2a2" stroke-width="1" />
<rect x="325" y="284" width="114" height="12.5" rx="0" fill="#9e9e9e" />
<text x="327.3" y="293.4" font-size="9.5" fill="#fbfbfb" font-weight="bold" textLength="71.5" lengthAdjust="spacingAndGlyphs" >Zoom Overview</text>
<rect x="417.8" y="290.8" width="4.5" height="2.2" rx="0" fill="#f6f6f6" />
<path d="M430.4,287.2 l5,5.4 M435.4,287.2 l-5,5.4" stroke="#f8f8f8" stroke-width="1.9"/>
<path d="M331,302.5H434M331,305.5H434M331,309.5H434M331,313.5H434M331,317.5H434M331,320.5H434M331,324.5H434M331,328.5H434M331,332.5H434M331,335.5H434M331,339.5H434M331.5,302V339.6M341.5,302V339.6M351.5,302V339.6M361.5,302V339.6M372.5,302V339.6M382.5,302V339.6M392.5,302V339.6M403.5,302V339.6M413.5,302V339.6M423.5,302V339.6M434.5,302V339.6" fill="none" stroke="#9fc9e6" stroke-width="1" stroke-dasharray="3 3" shape-rendering="crispEdges"/>
<rect x="331" y="315" width="102.5" height="7" rx="0" fill="#0000ff" />
<rect x="372.2" y="312" width="1.7" height="14" rx="0" fill="#6e6e6e" />
<path d="M366,319.2 H380.4 M366.3,316.6 V321.8 M367.9,317.4 V321 M379,317.4 V321 M380.5,316.6 V321.8" stroke="#8c8c70" stroke-width=".8" fill="none"/>
<circle cx="382.4" cy="318.2" r="1.8" fill="#ffff00"/>
<rect x="323.5" y="597.5" width="117" height="65" rx="0" fill="#fdfcfa" stroke="#a2a2a2" stroke-width="1" />
<rect x="325.5" y="599.5" width="113" height="61" rx="0" fill="#fdfcfa" stroke="#a2a2a2" stroke-width="1" />
<rect x="325" y="599" width="114" height="12.5" rx="0" fill="#9e9e9e" />
<text x="327.3" y="608.4" font-size="9.5" fill="#fbfbfb" font-weight="bold" textLength="71.5" lengthAdjust="spacingAndGlyphs" >Zoom Overview</text>
<rect x="417.8" y="605.8" width="4.5" height="2.2" rx="0" fill="#f6f6f6" />
<path d="M430.4,602.2 l5,5.4 M435.4,602.2 l-5,5.4" stroke="#f8f8f8" stroke-width="1.9"/>
<path d="M331,617.5H434M331,620.5H434M331,624.5H434M331,628.5H434M331,632.5H434M331,635.5H434M331,639.5H434M331,643.5H434M331,647.5H434M331,650.5H434M331,654.5H434M331.5,617V654.6M341.5,617V654.6M351.5,617V654.6M361.5,617V654.6M372.5,617V654.6M382.5,617V654.6M392.5,617V654.6M403.5,617V654.6M413.5,617V654.6M423.5,617V654.6M434.5,617V654.6" fill="none" stroke="#9fc9e6" stroke-width="1" stroke-dasharray="3 3" shape-rendering="crispEdges"/>
<rect x="331" y="630" width="102.5" height="12" rx="0" fill="#ff0000" />
<line x1="433.5" y1="622" x2="433.5" y2="652" stroke="#5a5a5a" stroke-width="1" />
<path d="M426.3,637.3 H438 M426.4,634.4 V639.2 M427.8,635.8 H429.6 M437.8,635 V638" stroke="#7a7a7a" stroke-width=".9" fill="none"/>
<path d="M596.5,128.5 H1007.5 q2,0 2,2 V410.5 q0,2 -2,2 H518.5 q-2,0 -2,-2" fill="none" stroke="#8c7768"/>
<path d="M516.5,410.5 V128.5" fill="none" stroke="#a6988c"/>
<path d="M519,413.5 H1007 q3.5,0 3.5,-3.5 V132" fill="none" stroke="#e4dfd6"/>
<path d="M516.5,128.5 V112.5 q0,-4 4,-4 H592.5 q4,0 4,4 V128.5" fill="#fdfcfa" stroke="#8c7768"/>
<text x="530.6" y="123.9" font-size="12" fill="#000" textLength="49" lengthAdjust="spacingAndGlyphs" >Channel A</text>
<path d="M554,136.5H976M554,152.5H976M554,169.5H976M554,185.5H976M554,202.5H976M554,218.5H976M554,234.5H976M554,251.5H976M554,267.5H976M554,284.5H976M554,300.5H976M554.5,136V300M595.5,136V300M637.5,136V300M678.5,136V300M720.5,136V300M761.5,136V300M802.5,136V300M844.5,136V300M885.5,136V300M927.5,136V300M968.5,136V300" fill="none" stroke="#9fc9e6" stroke-dasharray="3 3" shape-rendering="crispEdges"/>
<rect x="521.5" y="133.5" width="6" height="6" rx="0" fill="#0000ff" stroke="#000" stroke-width="1" />
<text x="552.8" y="139.4" font-size="12" fill="#0000ff" text-anchor="end" textLength="20.75" lengthAdjust="spacingAndGlyphs" >19.4</text>
<text x="552.2" y="154.2" font-size="12" fill="#0000ff" text-anchor="end" textLength="18.5" lengthAdjust="spacingAndGlyphs" >dBu</text>
<text x="552.8" y="188.4" font-size="12" fill="#0000ff" text-anchor="end" textLength="30.2" lengthAdjust="spacingAndGlyphs" >-29.58</text>
<text x="552.8" y="205.4" font-size="12" fill="#0000ff" text-anchor="end" textLength="30.2" lengthAdjust="spacingAndGlyphs" >-45.91</text>
<text x="552.8" y="221.4" font-size="12" fill="#0000ff" text-anchor="end" textLength="30.2" lengthAdjust="spacingAndGlyphs" >-62.23</text>
<text x="552.8" y="237.4" font-size="12" fill="#0000ff" text-anchor="end" textLength="30.2" lengthAdjust="spacingAndGlyphs" >-78.56</text>
<text x="552.8" y="254.4" font-size="12" fill="#0000ff" text-anchor="end" textLength="30.2" lengthAdjust="spacingAndGlyphs" >-94.88</text>
<text x="552.8" y="270.4" font-size="12" fill="#0000ff" text-anchor="end" textLength="30.2" lengthAdjust="spacingAndGlyphs" >-110.0</text>
<line x1="530" y1="155.5" x2="545" y2="155.5" stroke="#0000ff" stroke-width="1" />
<path d="M555.5,219V241M556.5,236V253M557.5,239V254M558.5,238V250M559.5,245V259M560.5,246V254M561.5,245V252M562.5,243V254M563.5,244V254M564.5,239V253M565.5,244V259M566.5,243V256M567.5,246V255M568.5,239V248M569.5,240V252M570.5,232V247M571.5,224V239M572.5,214V231M573.5,205V221M574.5,146V211M575.5,150V213M576.5,207V223M577.5,216V233M578.5,226V241M579.5,234V249M580.5,240V255M581.5,258V265M582.5,248V259M583.5,254V262M584.5,251V260M585.5,253V262M586.5,256V264M587.5,255V260M588.5,250V261M589.5,253V260M590.5,255V263M591.5,247V256M592.5,252V262M593.5,248V262M594.5,252V260M595.5,254V258M596.5,252V258M597.5,253V258M598.5,255V267M599.5,252V260M600.5,252V260M601.5,244V266M602.5,249V257M603.5,252V259M604.5,252V268M605.5,252V260M606.5,243V254M607.5,249V261M608.5,253V260M609.5,247V256M610.5,255V262M611.5,247V261M612.5,247V255M613.5,253V256M614.5,254V258M615.5,252V262M616.5,251V262M617.5,256V261M618.5,249V260M619.5,250V259M620.5,248V264M621.5,250V264M622.5,250V260M623.5,251V266M624.5,247V260M625.5,251V257M626.5,256V266M627.5,259V265M628.5,252V260M629.5,254V257M630.5,247V257M631.5,248V262M632.5,253V258M633.5,256V265M634.5,259V266M635.5,253V262M636.5,247V257M637.5,249V256M638.5,253V260M639.5,255V267M640.5,253V262M641.5,252V262M642.5,251V261M643.5,254V260M644.5,248V255M645.5,251V261M646.5,248V252M647.5,248V257M648.5,250V256M649.5,250V258M650.5,248V256M651.5,255V257M652.5,254V261M653.5,244V259M654.5,252V262M655.5,246V266M656.5,249V268M657.5,253V266M658.5,250V260M659.5,253V260M660.5,250V257M661.5,252V260M662.5,250V268M663.5,244V263M664.5,250V265M665.5,254V260M666.5,255V261M667.5,257V265M668.5,250V258M669.5,249V256M670.5,249V261M671.5,256V265M672.5,248V260M673.5,246V255M674.5,251V258M675.5,254V258M676.5,253V257M677.5,251V256M678.5,253V255M679.5,252V256M680.5,249V258M681.5,252V258M682.5,247V253M683.5,249V260M684.5,244V253M685.5,249V254M686.5,253V261M687.5,258V264M688.5,258V265M689.5,250V264M690.5,253V260M691.5,256V265M692.5,259V268M693.5,255V268M694.5,255V264M695.5,250V259M696.5,258V262M697.5,256V261M698.5,252V257M699.5,250V253M700.5,249V254M701.5,251V258M702.5,253V260M703.5,253V266M704.5,250V257M705.5,256V260M706.5,251V257M707.5,245V252M708.5,246V255M709.5,254V259M710.5,248V261M711.5,248V252M712.5,251V257M713.5,248V253M714.5,251V255M715.5,252V258M716.5,250V253M717.5,248V253M718.5,251V254M719.5,250V254M720.5,251V256M721.5,251V253M722.5,249V255M723.5,249V251M724.5,250V253M725.5,250V256M726.5,251V261M727.5,244V261M728.5,249V257M729.5,256V263M730.5,257V262M731.5,250V258M732.5,250V257M733.5,254V256M734.5,252V257M735.5,256V264M736.5,261V267M737.5,253V262M738.5,252V260M739.5,252V260M740.5,253V258M741.5,254V261M742.5,254V264M743.5,255V262M744.5,249V260M745.5,250V266M746.5,249V264M747.5,252V260M748.5,251V256M749.5,254V257M750.5,251V256M751.5,252V265M752.5,252V260M753.5,251V256M754.5,255V259M755.5,252V256M756.5,249V256M757.5,255V259M758.5,252V259M759.5,248V253M760.5,251V253M761.5,252V260M762.5,254V260M763.5,250V256M764.5,253V256M765.5,252V260M766.5,254V262M767.5,255V266M768.5,252V257M769.5,249V266M770.5,249V261M771.5,256V260M772.5,254V265M773.5,249V258M774.5,253V266M775.5,256V268M776.5,251V260M777.5,250V255M778.5,249V257M779.5,251V258M780.5,253V259M781.5,252V264M782.5,252V261M783.5,253V265M784.5,249V257M785.5,250V258M786.5,246V255M787.5,252V261M788.5,252V258M789.5,251V255M790.5,253V257M791.5,255V266M792.5,251V268M793.5,252V261M794.5,245V258M795.5,257V268M796.5,255V263M797.5,245V265M798.5,241V260M799.5,259V268M800.5,251V261M801.5,251V258M802.5,253V256M803.5,253V258M804.5,249V254M805.5,251V258M806.5,249V258M807.5,253V262M808.5,249V259M809.5,252V257M810.5,255V261M811.5,247V258M812.5,253V264M813.5,254V265M814.5,259V266M815.5,252V264M816.5,253V262M817.5,252V268M818.5,250V258M819.5,251V259M820.5,249V260M821.5,251V257M822.5,254V260M823.5,256V265M824.5,255V262M825.5,249V268M826.5,247V259M827.5,255V262M828.5,250V256M829.5,249V254M830.5,247V256M831.5,252V258M832.5,252V255M833.5,254V263M834.5,248V266M835.5,244V267M836.5,254V261M837.5,253V258M838.5,254V261M839.5,253V260M840.5,254V262M841.5,250V260M842.5,250V255M843.5,252V257M844.5,250V256M845.5,255V260M846.5,252V263M847.5,252V260M848.5,251V255M849.5,249V257M850.5,250V256M851.5,251V259M852.5,251V264M853.5,251V268M854.5,252V265M855.5,245V268M856.5,251V261M857.5,254V268M858.5,247V260M859.5,249V256M860.5,249V256M861.5,255V262M862.5,251V260M863.5,245V256M864.5,255V260M865.5,253V258M866.5,250V257M867.5,252V261M868.5,251V257M869.5,251V257M870.5,255V261M871.5,255V261M872.5,253V257M873.5,245V255M874.5,250V257M875.5,251V256M876.5,250V252M877.5,249V258M878.5,249V258M879.5,254V263M880.5,252V255M881.5,250V254M882.5,253V259M883.5,255V259M884.5,252V256M885.5,246V253M886.5,249V254M887.5,248V257M888.5,243V257M889.5,256V268M890.5,253V261M891.5,243V257M892.5,249V256M893.5,251V258M894.5,244V252M895.5,249V259M896.5,253V260M897.5,255V266M898.5,245V259M899.5,254V260M900.5,250V260M901.5,246V258M902.5,251V267M903.5,251V256M904.5,250V255M905.5,251V257M906.5,252V257M907.5,246V253M908.5,248V256M909.5,253V258M910.5,245V254M911.5,251V258M912.5,253V260M913.5,257V260M914.5,251V263M915.5,250V259M916.5,254V266M917.5,254V263M918.5,250V259M919.5,254V265M920.5,252V259M921.5,251V264M922.5,256V268M923.5,252V259M924.5,258V263M925.5,254V261M926.5,249V264M927.5,252V257M928.5,256V268M929.5,248V263M930.5,252V257M931.5,250V256M932.5,253V258M933.5,251V264M934.5,247V256M935.5,250V254M936.5,249V257M937.5,254V260M938.5,254V255M939.5,245V255M940.5,248V260M941.5,255V268M942.5,247V259M943.5,246V256M944.5,246V251M945.5,249V258M946.5,257V266M947.5,255V261M948.5,253V264M949.5,252V257M950.5,249V258M951.5,257V262M952.5,259V263M953.5,253V265M954.5,249V258M955.5,251V257M956.5,248V252M957.5,250V254M958.5,253V256M959.5,252V260M960.5,252V258M961.5,252V259M962.5,254V261M963.5,255V262M964.5,250V259M965.5,251V254M966.5,253V258M967.5,249V259M968.5,243V262M969.5,247V259M970.5,250V262M971.5,252V268M972.5,253V264M973.5,257V262M974.5,252V261M975.5,251V255M976.5,254V258" fill="none" stroke="#0000ff" stroke-width="1" shape-rendering="crispEdges"/>
<rect x="552.5" y="300.5" width="6" height="6" rx="0" fill="#fff" stroke="#000" stroke-width="1" />
<text x="553.7" y="316.5" font-size="12" fill="#000" text-anchor="middle" textLength="14.9" lengthAdjust="spacingAndGlyphs" >0.0</text>
<text x="594.7" y="316.5" font-size="12" fill="#000" text-anchor="middle" textLength="14.9" lengthAdjust="spacingAndGlyphs" >2.0</text>
<text x="636.7" y="316.5" font-size="12" fill="#000" text-anchor="middle" textLength="14.9" lengthAdjust="spacingAndGlyphs" >4.0</text>
<text x="677.7" y="316.5" font-size="12" fill="#000" text-anchor="middle" textLength="14.9" lengthAdjust="spacingAndGlyphs" >6.0</text>
<text x="719.7" y="316.5" font-size="12" fill="#000" text-anchor="middle" textLength="14.9" lengthAdjust="spacingAndGlyphs" >8.0</text>
<text x="760.7" y="316.5" font-size="12" fill="#000" text-anchor="middle" textLength="20.75" lengthAdjust="spacingAndGlyphs" >10.0</text>
<text x="801.7" y="316.5" font-size="12" fill="#000" text-anchor="middle" textLength="20.75" lengthAdjust="spacingAndGlyphs" >12.0</text>
<text x="843.7" y="316.5" font-size="12" fill="#000" text-anchor="middle" textLength="20.75" lengthAdjust="spacingAndGlyphs" >14.0</text>
<text x="884.7" y="316.5" font-size="12" fill="#000" text-anchor="middle" textLength="20.75" lengthAdjust="spacingAndGlyphs" >16.0</text>
<text x="926.7" y="316.5" font-size="12" fill="#000" text-anchor="middle" textLength="20.75" lengthAdjust="spacingAndGlyphs" >18.0</text>
<text x="967.7" y="316.5" font-size="12" fill="#000" text-anchor="middle" textLength="20.75" lengthAdjust="spacingAndGlyphs" >20.0</text>
<rect x="521" y="320" width="32" height="12" rx="0" fill="#8080ff" />
<text x="537" y="329.7" font-size="10" fill="#dcdcff" text-anchor="middle" textLength="18.5" lengthAdjust="spacingAndGlyphs" >x0.5</text>
<text x="556" y="331" font-size="12" fill="#000" textLength="19.5" lengthAdjust="spacingAndGlyphs" >kHz</text>
<rect x="993" y="131" width="16" height="202" rx="0" fill="#fdfcfb" />
<rect x="993.5" y="131" width="5" height="202" rx="0" fill="url(#gTrackV)" />
<rect x="993.5" y="131.5" width="15" height="15" rx="2.6" fill="#ffffff" stroke="#8c7768" stroke-width="1" />
<rect x="997" y="133" width="10" height="12" rx="0" fill="#ece6d9" />
<path d="M997.5,142.29999999999998 L1001.0,138.1 L1004.5,142.29999999999998" fill="none" stroke="#fff" stroke-width="1.25"/>
<path d="M997.5,141.1 L1001.0,136.9 L1004.5,141.1" fill="none" stroke="#7a6456" stroke-width="1.25"/>
<rect x="993.5" y="317.5" width="15" height="15" rx="2.6" fill="#ffffff" stroke="#8c7768" stroke-width="1" />
<rect x="997" y="319" width="10" height="12" rx="0" fill="#ece6d9" />
<path d="M997.5,324.09999999999997 L1001.0,328.3 L1004.5,324.09999999999997" fill="none" stroke="#fff" stroke-width="1.25"/>
<path d="M997.5,322.9 L1001.0,327.1 L1004.5,322.9" fill="none" stroke="#7a6456" stroke-width="1.25"/>
<rect x="993.5" y="148.5" width="15" height="103" rx="2.6" fill="#ffffff" stroke="#8c7768" stroke-width="1" />
<rect x="997" y="150" width="10" height="100" rx="0" fill="#ece6d9" />
<line x1="997.5" y1="198.5" x2="1004.5" y2="198.5" stroke="#7a6456" stroke-width="1" />
<line x1="997.5" y1="200.5" x2="1004.5" y2="200.5" stroke="#7a6456" stroke-width="1" />
<line x1="997.5" y1="202.5" x2="1004.5" y2="202.5" stroke="#7a6456" stroke-width="1" />
<rect x="520" y="333" width="473" height="16" rx="0" fill="#fdfcfb" />
<rect x="520" y="333.5" width="473" height="5" rx="0" fill="url(#gTrackH)" />
<rect x="520.5" y="333.5" width="15" height="15" rx="2.6" fill="#ffffff" stroke="#8c7768" stroke-width="1" />
<rect x="522" y="337" width="12" height="10" rx="0" fill="#ece6d9" />
<path d="M530.0,338.59999999999997 L526.0,342.2 L530.0,345.8" fill="none" stroke="#fff" stroke-width="1.25"/>
<path d="M530.0,337.4 L526.0,341.0 L530.0,344.6" fill="none" stroke="#7a6456" stroke-width="1.25"/>
<rect x="977.5" y="333.5" width="15" height="15" rx="2.6" fill="#ffffff" stroke="#8c7768" stroke-width="1" />
<rect x="979" y="337" width="12" height="10" rx="0" fill="#ece6d9" />
<path d="M983.0,338.59999999999997 L987.0,342.2 L983.0,345.8" fill="none" stroke="#fff" stroke-width="1.25"/>
<path d="M983.0,337.4 L987.0,341.0 L983.0,344.6" fill="none" stroke="#7a6456" stroke-width="1.25"/>
<rect x="537.5" y="333.5" width="34" height="15" rx="2.6" fill="#ffffff" stroke="#8c7768" stroke-width="1" />
<rect x="539" y="337" width="31" height="10" rx="0" fill="#ece6d9" />
<line x1="552.5" y1="337.5" x2="552.5" y2="344.5" stroke="#7a6456" stroke-width="1" />
<line x1="554.5" y1="337.5" x2="554.5" y2="344.5" stroke="#7a6456" stroke-width="1" />
<line x1="556.5" y1="337.5" x2="556.5" y2="344.5" stroke="#7a6456" stroke-width="1" />
<rect x="520" y="352" width="489" height="20" rx="0" fill="#9a9a9a" />
<rect x="520" y="372" width="489" height="23" rx="0" fill="#9a9a9a" />
<rect x="535" y="372" width="474" height="22.5" rx="0" fill="#729fcf" />
<rect x="525" y="380.5" width="5.5" height="5.5" rx="0" fill="#0000ff" stroke="#000" stroke-width="1" />
<line x1="599.5" y1="353" x2="599.5" y2="371" stroke="#ffffff" stroke-width="1.3" />
<line x1="599.5" y1="372" x2="599.5" y2="394.5" stroke="#86acd6" stroke-width="1" />
<line x1="864.5" y1="353" x2="864.5" y2="371" stroke="#ffffff" stroke-width="1.3" />
<line x1="864.5" y1="372" x2="864.5" y2="394.5" stroke="#86acd6" stroke-width="1" />
<line x1="957.5" y1="353" x2="957.5" y2="371" stroke="#ffffff" stroke-width="1.3" />
<line x1="957.5" y1="372" x2="957.5" y2="394.5" stroke="#86acd6" stroke-width="1" />
<text x="539" y="365.7" font-size="10.6" fill="#ececec" textLength="37" lengthAdjust="spacingAndGlyphs" >Channel</text>
<text x="604.5" y="365.7" font-size="10.6" fill="#ececec" textLength="26" lengthAdjust="spacingAndGlyphs" >Name</text>
<text x="869.5" y="365.7" font-size="10.6" fill="#ececec" textLength="22" lengthAdjust="spacingAndGlyphs" >Span</text>
<clipPath id="cv352"><rect x="958" y="352" width="25" height="20"/></clipPath>
<text x="962" y="365.7" font-size="10.6" fill="#ececec" textLength="26" lengthAdjust="spacingAndGlyphs" clip-path="url(#cv352)">Value</text>
<rect x="986" y="362.2" width="4" height="1.8" rx="0" fill="#f4f4f4" />
<rect x="999.15" y="358.15" width="4.2" height="4.2" rx="0" fill="none" stroke="#f4f4f4" stroke-width="1.3" />
<text x="540" y="389.5" font-size="16.4" fill="#f0f5fb" >A</text>
<text x="604" y="389.5" font-size="16.4" fill="#f0f5fb" textLength="254" lengthAdjust="spacingAndGlyphs" >Total Harmonic Distortion (THD) dB</text>
<text x="869" y="389.5" font-size="16.4" fill="#f0f5fb" textLength="82.5" lengthAdjust="spacingAndGlyphs" >Whole trace</text>
<clipPath id="cr352"><rect x="958" y="372" width="51" height="23"/></clipPath>
<text x="962" y="389.5" font-size="16.4" fill="#f0f5fb" clip-path="url(#cr352)">-90.3 dB</text>
<rect x="520" y="396" width="489" height="16" rx="0" fill="#fdfcfb" />
<rect x="520" y="396.5" width="489" height="5" rx="0" fill="url(#gTrackH)" />
<rect x="520.5" y="396.5" width="15" height="15" rx="2.6" fill="#ffffff" stroke="#8c7768" stroke-width="1" />
<rect x="522" y="400" width="12" height="10" rx="0" fill="#ece6d9" />
<path d="M530.0,401.59999999999997 L526.0,405.2 L530.0,408.8" fill="none" stroke="#fff" stroke-width="1.25"/>
<path d="M530.0,400.4 L526.0,404.0 L530.0,407.6" fill="none" stroke="#7a6456" stroke-width="1.25"/>
<rect x="993.5" y="396.5" width="15" height="15" rx="2.6" fill="#ffffff" stroke="#8c7768" stroke-width="1" />
<rect x="995" y="400" width="12" height="10" rx="0" fill="#ece6d9" />
<path d="M999.0,401.59999999999997 L1003.0,405.2 L999.0,408.8" fill="none" stroke="#fff" stroke-width="1.25"/>
<path d="M999.0,400.4 L1003.0,404.0 L999.0,407.6" fill="none" stroke="#7a6456" stroke-width="1.25"/>
<rect x="538.5" y="396.5" width="119" height="15" rx="2.6" fill="#ffffff" stroke="#8c7768" stroke-width="1" />
<rect x="540" y="400" width="116" height="10" rx="0" fill="#ece6d9" />
<line x1="596.5" y1="400.5" x2="596.5" y2="407.5" stroke="#7a6456" stroke-width="1" />
<line x1="598.5" y1="400.5" x2="598.5" y2="407.5" stroke="#7a6456" stroke-width="1" />
<line x1="600.5" y1="400.5" x2="600.5" y2="407.5" stroke="#7a6456" stroke-width="1" />
<rect x="827.5" y="235.5" width="117" height="48" rx="0" fill="#fdfcfa" stroke="#a2a2a2" stroke-width="1" />
<rect x="829.5" y="237.5" width="113" height="44" rx="0" fill="#fdfcfa" stroke="#a2a2a2" stroke-width="1" />
<rect x="829" y="237" width="114" height="12.5" rx="0" fill="#9e9e9e" />
<text x="831.3" y="246.4" font-size="9.5" fill="#fbfbfb" font-weight="bold" textLength="71.5" lengthAdjust="spacingAndGlyphs" >Zoom Overview</text>
<rect x="921.8" y="243.8" width="4.5" height="2.2" rx="0" fill="#f6f6f6" />
<path d="M934.4,240.2 l5,5.4 M939.4,240.2 l-5,5.4" stroke="#f8f8f8" stroke-width="1.9"/>
<path d="M835,255.5H935M835,257.5H935M835,259.5H935M835,261.5H935M835,263.5H935M835,266.5H935M835,268.5H935M835,270.5H935M835,272.5H935M835,274.5H935M835,277.5H935" fill="none" stroke="#9fc9e6" stroke-width="1" stroke-dasharray="3 3" shape-rendering="crispEdges"/>
<path d="M835,266 L835.6,255.5 L836.4,264 H937 V267 H835 Z" fill="#0000ff"/>
<rect x="835.5" y="255.5" width="9" height="12" rx="0" fill="none" stroke="#808080" stroke-width="1" />
<path d="M833.4,261.8 H835 M845,261.8 H846.8 M833.5,259 V265 M846.5,259 V265" stroke="#808080" stroke-width="1" fill="none" shape-rendering="crispEdges"/>
<path d="M598.5,444.5 H1007.5 q2,0 2,2 V725.5 q0,2 -2,2 H518.5 q-2,0 -2,-2" fill="none" stroke="#8c7768"/>
<path d="M516.5,725.5 V444.5" fill="none" stroke="#a6988c"/>
<path d="M519,728.5 H1007 q3.5,0 3.5,-3.5 V448" fill="none" stroke="#e4dfd6"/>
<path d="M516.5,444.5 V428.5 q0,-4 4,-4 H594.5 q4,0 4,4 V444.5" fill="#fdfcfa" stroke="#8c7768"/>
<text x="530.6" y="439.9" font-size="12" fill="#000" textLength="49" lengthAdjust="spacingAndGlyphs" >Channel B</text>
<path d="M554,452.5H976M554,468.5H976M554,485.5H976M554,501.5H976M554,517.5H976M554,533.5H976M554,550.5H976M554,566.5H976M554,582.5H976M554,598.5H976M554,615.5H976M554.5,452V615M637.5,452V615M720.5,452V615M802.5,452V615M885.5,452V615M968.5,452V615" fill="none" stroke="#9fc9e6" stroke-dasharray="3 3" shape-rendering="crispEdges"/>
<rect x="521.5" y="449.5" width="6" height="6" rx="0" fill="#ff0000" stroke="#000" stroke-width="1" />
<text x="552.8" y="456.1" font-size="12" fill="#ff0000" text-anchor="end" textLength="20.75" lengthAdjust="spacingAndGlyphs" >18.3</text>
<text x="552.2" y="470.2" font-size="12" fill="#ff0000" text-anchor="end" textLength="18.5" lengthAdjust="spacingAndGlyphs" >dBu</text>
<text x="552.8" y="505.1" font-size="12" fill="#ff0000" text-anchor="end" textLength="30.2" lengthAdjust="spacingAndGlyphs" >-20.19</text>
<text x="552.8" y="521.1" font-size="12" fill="#ff0000" text-anchor="end" textLength="30.2" lengthAdjust="spacingAndGlyphs" >-33.02</text>
<text x="552.8" y="537.1" font-size="12" fill="#ff0000" text-anchor="end" textLength="30.2" lengthAdjust="spacingAndGlyphs" >-45.85</text>
<text x="552.8" y="554.1" font-size="12" fill="#ff0000" text-anchor="end" textLength="30.2" lengthAdjust="spacingAndGlyphs" >-58.68</text>
<text x="552.8" y="570.1" font-size="12" fill="#ff0000" text-anchor="end" textLength="30.2" lengthAdjust="spacingAndGlyphs" >-71.51</text>
<text x="552.8" y="586.1" font-size="12" fill="#ff0000" text-anchor="end" textLength="30.2" lengthAdjust="spacingAndGlyphs" >-84.34</text>
<text x="552.8" y="602.1" font-size="12" fill="#ff0000" text-anchor="end" textLength="30.2" lengthAdjust="spacingAndGlyphs" >-97.17</text>
<text x="552.8" y="619.1" font-size="12" fill="#ff0000" text-anchor="end" textLength="30.2" lengthAdjust="spacingAndGlyphs" >-110.0</text>
<line x1="530" y1="474.5" x2="545" y2="474.5" stroke="#ff0000" stroke-width="1" />
<path d="M555.5,549V576M556.5,572V591M557.5,583V594M558.5,585V597M559.5,586V603M560.5,588V603M561.5,574V588M562.5,586V596M563.5,584V591M564.5,588V597M565.5,575V587M566.5,582V597M567.5,576V591M568.5,566V585M569.5,548V575M570.5,520V557M571.5,463V546M572.5,496V553M573.5,545V573M574.5,560V585M575.5,572V593M576.5,580V599M577.5,595V608M578.5,607V616M579.5,608V610M580.5,606V616M581.5,597V616M582.5,609V614M583.5,611V616M584.5,601V612M585.5,600V606M586.5,599V608M587.5,597V610M588.5,544V601M589.5,546V605M590.5,596V603M591.5,588V603M592.5,602V616M593.5,599V607M594.5,603V609M595.5,602V616M596.5,600V610M597.5,602V610M598.5,598V603M599.5,599V608M600.5,600V604M601.5,603V610M602.5,593V606M603.5,601V616M604.5,556V607M605.5,595V616M606.5,587V615M607.5,592V610M608.5,605V616M609.5,588V606M610.5,590V607M611.5,594V612M612.5,591V603M613.5,585V605M614.5,593V603M615.5,602V613M616.5,600V604M617.5,593V601M618.5,599V614M619.5,602V614M620.5,573V609M621.5,575V605M622.5,597V602M623.5,599V606M624.5,589V602M625.5,593V614M626.5,607V613M627.5,596V608M628.5,597V609M629.5,588V610M630.5,586V600M631.5,596V607M632.5,595V611M633.5,595V616M634.5,600V608M635.5,596V603M636.5,593V598M637.5,583V607M638.5,601V605M639.5,599V604M640.5,594V602M641.5,586V609M642.5,591V604M643.5,598V611M644.5,596V600M645.5,593V599M646.5,592V598M647.5,597V604M648.5,597V609M649.5,592V602M650.5,601V614M651.5,597V612M652.5,596V599M653.5,592V604M654.5,602V616M655.5,589V607M656.5,604V616M657.5,599V608M658.5,595V600M659.5,596V601M660.5,593V599M661.5,598V605M662.5,598V609M663.5,596V610M664.5,597V602M665.5,597V615M666.5,594V607M667.5,597V608M668.5,589V609M669.5,599V612M670.5,593V600M671.5,596V600M672.5,592V600M673.5,593V600M674.5,595V606M675.5,597V616M676.5,604V612M677.5,589V610M678.5,596V606M679.5,600V606M680.5,600V604M681.5,596V605M682.5,604V614M683.5,608V612M684.5,595V609M685.5,596V609M686.5,600V605M687.5,595V601M688.5,595V607M689.5,590V604M690.5,594V603M691.5,602V616M692.5,600V609M693.5,602V608M694.5,597V605M695.5,595V611M696.5,597V608M697.5,600V607M698.5,591V601M699.5,597V605M700.5,594V604M701.5,595V603M702.5,602V616M703.5,598V610M704.5,591V610M705.5,594V611M706.5,598V605M707.5,589V600M708.5,599V610M709.5,601V606M710.5,600V614M711.5,588V605M712.5,591V605M713.5,598V616M714.5,599V616M715.5,592V603M716.5,592V599M717.5,593V600M718.5,595V603M719.5,596V609M720.5,593V602M721.5,595V600M722.5,593V605M723.5,595V614M724.5,590V603M725.5,593V602M726.5,601V610M727.5,598V610M728.5,593V616M729.5,598V612M730.5,597V603M731.5,592V602M732.5,601V608M733.5,606V612M734.5,600V611M735.5,593V604M736.5,597V607M737.5,597V616M738.5,600V609M739.5,605V614M740.5,600V614M741.5,598V616M742.5,594V610M743.5,599V608M744.5,598V608M745.5,597V616M746.5,594V598M747.5,597V603M748.5,591V601M749.5,593V602M750.5,596V609M751.5,596V616M752.5,594V614M753.5,591V609M754.5,594V606M755.5,592V596M756.5,595V608M757.5,594V616M758.5,598V602M759.5,599V601M760.5,600V614M761.5,593V604M762.5,602V609M763.5,590V603M764.5,596V607M765.5,596V604M766.5,597V604M767.5,585V599M768.5,596V611M769.5,593V607M770.5,598V611M771.5,593V599M772.5,595V602M773.5,601V614M774.5,598V609M775.5,598V608M776.5,597V611M777.5,592V598M778.5,593V610M779.5,595V607M780.5,602V616M781.5,600V609M782.5,595V608M783.5,599V612M784.5,593V607M785.5,605V614M786.5,596V612M787.5,593V603M788.5,596V603M789.5,591V601M790.5,599V606M791.5,605V612M792.5,597V613M793.5,600V616M794.5,595V607M795.5,598V614M796.5,597V603M797.5,593V608M798.5,591V610M799.5,588V610M800.5,590V598M801.5,593V603M802.5,597V603M803.5,595V606M804.5,594V609M805.5,601V608M806.5,601V610M807.5,598V610M808.5,593V604M809.5,602V611M810.5,596V615M811.5,599V611M812.5,597V614M813.5,594V606M814.5,597V616M815.5,586V599M816.5,598V616M817.5,595V610M818.5,596V599M819.5,597V601M820.5,594V603M821.5,594V601M822.5,600V607M823.5,592V611M824.5,587V606M825.5,605V615M826.5,602V613M827.5,602V611M828.5,595V605M829.5,598V614M830.5,597V605M831.5,598V605M832.5,594V603M833.5,602V616M834.5,599V612M835.5,592V608M836.5,597V612M837.5,586V607M838.5,593V611M839.5,596V606M840.5,597V616M841.5,596V610M842.5,595V598M843.5,597V609M844.5,600V609M845.5,595V601M846.5,597V602M847.5,598V603M848.5,596V605M849.5,600V609M850.5,593V607M851.5,603V605M852.5,600V610M853.5,592V601M854.5,589V599M855.5,598V606M856.5,605V616M857.5,593V606M858.5,596V603M859.5,602V609M860.5,599V608M861.5,604V614M862.5,596V605M863.5,603V613M864.5,598V607M865.5,603V616M866.5,597V607M867.5,592V606M868.5,595V616M869.5,605V616M870.5,593V616M871.5,595V600M872.5,592V611M873.5,610V615M874.5,601V616M875.5,598V605M876.5,599V612M877.5,598V616M878.5,595V599M879.5,594V609M880.5,599V606M881.5,603V609M882.5,596V604M883.5,595V599M884.5,598V606M885.5,598V613M886.5,593V602M887.5,589V601M888.5,595V608M889.5,592V604M890.5,588V598M891.5,585V606M892.5,595V604M893.5,589V597M894.5,590V601M895.5,600V605M896.5,597V612M897.5,593V603M898.5,598V607M899.5,589V616M900.5,588V596M901.5,595V615M902.5,593V612M903.5,603V610M904.5,599V604M905.5,598V603M906.5,593V599M907.5,597V603M908.5,599V608M909.5,595V616M910.5,597V603M911.5,599V608M912.5,597V608M913.5,589V616M914.5,602V615M915.5,601V609M916.5,597V616M917.5,593V609M918.5,588V602M919.5,601V610M920.5,597V605M921.5,592V602M922.5,601V611M923.5,601V609M924.5,597V608M925.5,607V616M926.5,598V611M927.5,597V607M928.5,604V616M929.5,596V605M930.5,604V613M931.5,601V607M932.5,591V605M933.5,594V602M934.5,595V600M935.5,594V604M936.5,597V602M937.5,597V606M938.5,593V598M939.5,590V606M940.5,590V603M941.5,602V613M942.5,591V607M943.5,589V601M944.5,600V612M945.5,594V611M946.5,604V616M947.5,594V605M948.5,596V608M949.5,599V610M950.5,595V608M951.5,607V616M952.5,607V610M953.5,593V610M954.5,599V606M955.5,602V606M956.5,599V607M957.5,592V606M958.5,601V606M959.5,597V607M960.5,602V616M961.5,592V610M962.5,592V609M963.5,588V607M964.5,606V614M965.5,601V612M966.5,595V603M967.5,595V610M968.5,592V598M969.5,593V614M970.5,606V612M971.5,605V611M972.5,600V613M973.5,600V616M974.5,599V601M975.5,597V601M976.5,598V606" fill="none" stroke="#ff0000" stroke-width="1" shape-rendering="crispEdges"/>
<rect x="552.5" y="615.5" width="6" height="6" rx="0" fill="#fff" stroke="#000" stroke-width="1" />
<text x="553.7" y="631.5" font-size="12" fill="#000" text-anchor="middle" textLength="14.9" lengthAdjust="spacingAndGlyphs" >0.0</text>
<text x="636.7" y="631.5" font-size="12" fill="#000" text-anchor="middle" textLength="14.9" lengthAdjust="spacingAndGlyphs" >5.0</text>
<text x="719.7" y="631.5" font-size="12" fill="#000" text-anchor="middle" textLength="20.75" lengthAdjust="spacingAndGlyphs" >10.0</text>
<text x="801.7" y="631.5" font-size="12" fill="#000" text-anchor="middle" textLength="20.75" lengthAdjust="spacingAndGlyphs" >15.0</text>
<text x="884.7" y="631.5" font-size="12" fill="#000" text-anchor="middle" textLength="20.75" lengthAdjust="spacingAndGlyphs" >20.0</text>
<text x="967.7" y="631.5" font-size="12" fill="#000" text-anchor="middle" textLength="20.75" lengthAdjust="spacingAndGlyphs" >25.0</text>
<rect x="521" y="635" width="32" height="12" rx="0" fill="#ff8080" />
<text x="537" y="644.7" font-size="10" fill="#ffdcdc" text-anchor="middle" textLength="18.5" lengthAdjust="spacingAndGlyphs" >x1.0</text>
<text x="556" y="646" font-size="12" fill="#000" textLength="19.5" lengthAdjust="spacingAndGlyphs" >kHz</text>
<rect x="993" y="447" width="16" height="201" rx="0" fill="#fdfcfb" />
<rect x="993.5" y="447" width="5" height="201" rx="0" fill="url(#gTrackV)" />
<rect x="993.5" y="447.5" width="15" height="15" rx="2.6" fill="#ffffff" stroke="#8c7768" stroke-width="1" />
<rect x="997" y="449" width="10" height="12" rx="0" fill="#ece6d9" />
<path d="M997.5,458.3 L1001.0,454.09999999999997 L1004.5,458.3" fill="none" stroke="#fff" stroke-width="1.25"/>
<path d="M997.5,457.1 L1001.0,452.9 L1004.5,457.1" fill="none" stroke="#7a6456" stroke-width="1.25"/>
<rect x="993.5" y="632.5" width="15" height="15" rx="2.6" fill="#ffffff" stroke="#8c7768" stroke-width="1" />
<rect x="997" y="634" width="10" height="12" rx="0" fill="#ece6d9" />
<path d="M997.5,639.1 L1001.0,643.3000000000001 L1004.5,639.1" fill="none" stroke="#fff" stroke-width="1.25"/>
<path d="M997.5,637.9 L1001.0,642.1 L1004.5,637.9" fill="none" stroke="#7a6456" stroke-width="1.25"/>
<rect x="993.5" y="465.5" width="15" height="164" rx="2.6" fill="#ffffff" stroke="#8c7768" stroke-width="1" />
<rect x="997" y="467" width="10" height="161" rx="0" fill="#ece6d9" />
<line x1="997.5" y1="546.5" x2="1004.5" y2="546.5" stroke="#7a6456" stroke-width="1" />
<line x1="997.5" y1="548.5" x2="1004.5" y2="548.5" stroke="#7a6456" stroke-width="1" />
<line x1="997.5" y1="550.5" x2="1004.5" y2="550.5" stroke="#7a6456" stroke-width="1" />
<rect x="520" y="648" width="473" height="16" rx="0" fill="#fdfcfb" />
<rect x="520" y="648.5" width="473" height="5" rx="0" fill="url(#gTrackH)" />
<rect x="520.5" y="648.5" width="15" height="15" rx="2.6" fill="#ffffff" stroke="#8c7768" stroke-width="1" />
<rect x="522" y="652" width="12" height="10" rx="0" fill="#ece6d9" />
<path d="M530.0,653.6 L526.0,657.2 L530.0,660.8000000000001" fill="none" stroke="#fff" stroke-width="1.25"/>
<path d="M530.0,652.4 L526.0,656.0 L530.0,659.6" fill="none" stroke="#7a6456" stroke-width="1.25"/>
<rect x="977.5" y="648.5" width="15" height="15" rx="2.6" fill="#ffffff" stroke="#8c7768" stroke-width="1" />
<rect x="979" y="652" width="12" height="10" rx="0" fill="#ece6d9" />
<path d="M983.0,653.6 L987.0,657.2 L983.0,660.8000000000001" fill="none" stroke="#fff" stroke-width="1.25"/>
<path d="M983.0,652.4 L987.0,656.0 L983.0,659.6" fill="none" stroke="#7a6456" stroke-width="1.25"/>
<rect x="538.5" y="648.5" width="42" height="15" rx="2.6" fill="#ffffff" stroke="#8c7768" stroke-width="1" />
<rect x="540" y="652" width="39" height="10" rx="0" fill="#ece6d9" />
<line x1="558.5" y1="652.5" x2="558.5" y2="659.5" stroke="#7a6456" stroke-width="1" />
<line x1="560.5" y1="652.5" x2="560.5" y2="659.5" stroke="#7a6456" stroke-width="1" />
<line x1="562.5" y1="652.5" x2="562.5" y2="659.5" stroke="#7a6456" stroke-width="1" />
<rect x="520" y="667" width="489" height="20" rx="0" fill="#9a9a9a" />
<rect x="520" y="687" width="489" height="23" rx="0" fill="#9a9a9a" />
<rect x="535" y="687" width="474" height="22.5" rx="0" fill="#729fcf" />
<rect x="525" y="695.5" width="5.5" height="5.5" rx="0" fill="#ff0000" stroke="#000" stroke-width="1" />
<line x1="599.5" y1="668" x2="599.5" y2="686" stroke="#ffffff" stroke-width="1.3" />
<line x1="599.5" y1="687" x2="599.5" y2="709.5" stroke="#86acd6" stroke-width="1" />
<line x1="864.5" y1="668" x2="864.5" y2="686" stroke="#ffffff" stroke-width="1.3" />
<line x1="864.5" y1="687" x2="864.5" y2="709.5" stroke="#86acd6" stroke-width="1" />
<line x1="957.5" y1="668" x2="957.5" y2="686" stroke="#ffffff" stroke-width="1.3" />
<line x1="957.5" y1="687" x2="957.5" y2="709.5" stroke="#86acd6" stroke-width="1" />
<text x="539" y="680.7" font-size="10.6" fill="#ececec" textLength="37" lengthAdjust="spacingAndGlyphs" >Channel</text>
<text x="604.5" y="680.7" font-size="10.6" fill="#ececec" textLength="26" lengthAdjust="spacingAndGlyphs" >Name</text>
<text x="869.5" y="680.7" font-size="10.6" fill="#ececec" textLength="22" lengthAdjust="spacingAndGlyphs" >Span</text>
<clipPath id="cv667"><rect x="958" y="667" width="25" height="20"/></clipPath>
<text x="962" y="680.7" font-size="10.6" fill="#ececec" textLength="26" lengthAdjust="spacingAndGlyphs" clip-path="url(#cv667)">Value</text>
<rect x="986" y="677.2" width="4" height="1.8" rx="0" fill="#f4f4f4" />
<rect x="999.15" y="673.15" width="4.2" height="4.2" rx="0" fill="none" stroke="#f4f4f4" stroke-width="1.3" />
<text x="540" y="704.5" font-size="16.4" fill="#f0f5fb" >B</text>
<text x="604" y="704.5" font-size="16.4" fill="#f0f5fb" textLength="254" lengthAdjust="spacingAndGlyphs" >Total Harmonic Distortion (THD) dB</text>
<text x="869" y="704.5" font-size="16.4" fill="#f0f5fb" textLength="82.5" lengthAdjust="spacingAndGlyphs" >Whole trace</text>
<clipPath id="cr667"><rect x="958" y="687" width="51" height="23"/></clipPath>
<text x="962" y="704.5" font-size="16.4" fill="#f0f5fb" clip-path="url(#cr667)">-61.84 dB</text>
<rect x="520" y="711" width="489" height="16" rx="0" fill="#fdfcfb" />
<rect x="520" y="711.5" width="489" height="5" rx="0" fill="url(#gTrackH)" />
<rect x="520.5" y="711.5" width="15" height="15" rx="2.6" fill="#ffffff" stroke="#8c7768" stroke-width="1" />
<rect x="522" y="715" width="12" height="10" rx="0" fill="#ece6d9" />
<path d="M530.0,716.6 L526.0,720.2 L530.0,723.8000000000001" fill="none" stroke="#fff" stroke-width="1.25"/>
<path d="M530.0,715.4 L526.0,719.0 L530.0,722.6" fill="none" stroke="#7a6456" stroke-width="1.25"/>
<rect x="993.5" y="711.5" width="15" height="15" rx="2.6" fill="#ffffff" stroke="#8c7768" stroke-width="1" />
<rect x="995" y="715" width="12" height="10" rx="0" fill="#ece6d9" />
<path d="M999.0,716.6 L1003.0,720.2 L999.0,723.8000000000001" fill="none" stroke="#fff" stroke-width="1.25"/>
<path d="M999.0,715.4 L1003.0,719.0 L999.0,722.6" fill="none" stroke="#7a6456" stroke-width="1.25"/>
<rect x="538.5" y="711.5" width="119" height="15" rx="2.6" fill="#ffffff" stroke="#8c7768" stroke-width="1" />
<rect x="540" y="715" width="116" height="10" rx="0" fill="#ece6d9" />
<line x1="596.5" y1="715.5" x2="596.5" y2="722.5" stroke="#7a6456" stroke-width="1" />
<line x1="598.5" y1="715.5" x2="598.5" y2="722.5" stroke="#7a6456" stroke-width="1" />
<line x1="600.5" y1="715.5" x2="600.5" y2="722.5" stroke="#7a6456" stroke-width="1" />
<rect x="827.5" y="550.5" width="117" height="48" rx="0" fill="#fdfcfa" stroke="#a2a2a2" stroke-width="1" />
<rect x="829.5" y="552.5" width="113" height="44" rx="0" fill="#fdfcfa" stroke="#a2a2a2" stroke-width="1" />
<rect x="829" y="552" width="114" height="12.5" rx="0" fill="#9e9e9e" />
<text x="831.3" y="561.4" font-size="9.5" fill="#fbfbfb" font-weight="bold" textLength="71.5" lengthAdjust="spacingAndGlyphs" >Zoom Overview</text>
<rect x="921.8" y="558.8" width="4.5" height="2.2" rx="0" fill="#f6f6f6" />
<path d="M934.4,555.2 l5,5.4 M939.4,555.2 l-5,5.4" stroke="#f8f8f8" stroke-width="1.9"/>
<path d="M835,570.5H935M835,572.5H935M835,574.5H935M835,576.5H935M835,578.5H935M835,580.5H935M835,583.5H935M835,585.5H935M835,587.5H935M835,589.5H935M835,591.5H935" fill="none" stroke="#9fc9e6" stroke-width="1" stroke-dasharray="3 3" shape-rendering="crispEdges"/>
<path d="M835,588 H836 V571 H837.5 V587 L845,588 H937 V591 H835 Z" fill="#ff0000"/>
<rect x="835.5" y="570.5" width="10.5" height="20.5" rx="0" fill="none" stroke="#808080" stroke-width="1" />
<path d="M834.6,578 V584 M847,578 V584" stroke="#808080" stroke-width="1.6" fill="none"/>
<rect x="9" y="733" width="1006" height="26.5" rx="0" fill="url(#gBar)" />
<path d="M840,734.5 L1015,734.5 L1015,758.5 C1005,756 995,753 975,749 C945,743.5 900,741 840,740.6 Z" fill="#fdfcfa"/>
<line x1="9" y1="733.5" x2="1015" y2="733.5" stroke="#6e6864" stroke-width="1" />
<line x1="9" y1="759.5" x2="1015" y2="759.5" stroke="#8c7768" stroke-width="1" />
<circle cx="20.7" cy="745.7" r="7.8" fill="url(#gGo)" stroke="#3c6a38" stroke-width="1"/>
<path d="M16.4,743.8 H20.4 V741.2 L25.6,745.8 L20.4,750.4 V747.8 H16.4 Z" fill="#fff" stroke="#3a4a3a" stroke-width=".9"/>
<rect x="32.5" y="736.5" width="21" height="20" rx="0" fill="url(#gSel)" stroke="#5fa5e2" stroke-width="1" />
<rect x="33.5" y="737.5" width="19" height="18" fill="none" stroke="#eaf5fe" stroke-opacity=".9"/>
<circle cx="43" cy="745.8" r="7.9" fill="url(#gStop)"/>
<rect x="37.6" y="744.4" width="10.8" height="2.8" rx="0.6" fill="#fff" />
<line x1="56.5" y1="737" x2="56.5" y2="756.5" stroke="#9c8d80" stroke-width="1" />
<line x1="57.5" y1="737" x2="57.5" y2="756.5" stroke="#ffffff" stroke-width="1" />
<text x="62.4" y="749.6" font-size="11.5" fill="#000" textLength="36.2" lengthAdjust="spacingAndGlyphs" >Trigger</text>
<rect x="104.5" y="736.5" width="75" height="19" rx="0" fill="#fff" stroke="#bcb2aa" stroke-width="1" />
<text x="109.5" y="749.7" font-size="11" fill="#000" textLength="23" lengthAdjust="spacingAndGlyphs" >Auto</text>
<rect x="162.5" y="738.5" width="15" height="15" rx="2.6" fill="#ffffff" stroke="#8c7768" stroke-width="1" />
<rect x="164" y="742" width="12" height="10" rx="0" fill="#ece6d9" />
<path d="M166.5,745.1 L170.0,749.3000000000001 L173.5,745.1" fill="none" stroke="#fff" stroke-width="1.25"/>
<path d="M166.5,743.9 L170.0,748.1 L173.5,743.9" fill="none" stroke="#7a6456" stroke-width="1.25"/>
<rect x="191.5" y="743" width="5.5" height="10.5" rx="0" fill="#b8d4f0" opacity=".8"/>
<path d="M185,750.2 H188.6 V742.2 H194.2 V750.2 H201.4" fill="none" stroke="#000" stroke-width="1.2"/>
<circle cx="194.4" cy="747.4" r="1.7" fill="#20c020"/>
<path d="M201.4,738.4 L201.4,743.4 L199.8,741.8 L196.6,745 L194.8,743.2 L198,740 L196.4,738.4 Z" fill="#000"/>
<line x1="206.5" y1="737" x2="206.5" y2="756.5" stroke="#9c8d80" stroke-width="1" />
<line x1="207.5" y1="737" x2="207.5" y2="756.5" stroke="#ffffff" stroke-width="1" />
<rect x="213.5" y="736.5" width="75" height="19" rx="0" fill="#fff" stroke="#bcb2aa" stroke-width="1" />
<text x="217.8" y="749.7" font-size="11" fill="#000" textLength="7.3" lengthAdjust="spacingAndGlyphs" >A</text>
<rect x="271.5" y="738.5" width="15" height="15" rx="2.6" fill="#ffffff" stroke="#8c7768" stroke-width="1" />
<rect x="273" y="742" width="12" height="10" rx="0" fill="#ece6d9" />
<path d="M275.5,745.1 L279.0,749.3000000000001 L282.5,745.1" fill="none" stroke="#fff" stroke-width="1.25"/>
<path d="M275.5,743.9 L279.0,748.1 L282.5,743.9" fill="none" stroke="#7a6456" stroke-width="1.25"/>
<line x1="293.5" y1="737" x2="293.5" y2="756.5" stroke="#9c8d80" stroke-width="1" />
<line x1="294.5" y1="737" x2="294.5" y2="756.5" stroke="#ffffff" stroke-width="1" />
<rect x="297.5" y="736.5" width="21" height="20" rx="0" fill="url(#gSel)" stroke="#5fa5e2" stroke-width="1" />
<rect x="298.5" y="737.5" width="19" height="18" fill="none" stroke="#eaf5fe" stroke-opacity=".9"/>
<path d="M301,751.4 H304.6 L312,741.6 H316" fill="none" stroke="#000" stroke-width="1.2"/>
<path d="M308.3,740.3 V744.9 M308.3,748.1 V752.7 M306.3,742.9 L308.3,745.1 L310.3,742.9 M306.3,750.1 L308.3,747.9 L310.3,750.1" fill="none" stroke="#1030f0" stroke-width="1.1"/>
<path d="M322.8,741.6 H326.4 L333.4,751.4 H337.4" fill="none" stroke="#000" stroke-width="1.2"/>
<path d="M330,740.3 V744.9 M330,748.1 V752.7 M328,742.9 L330,745.1 L332,742.9 M328,750.1 L330,747.9 L332,750.1" fill="none" stroke="#1030f0" stroke-width="1.1"/>
<line x1="343.5" y1="737" x2="343.5" y2="756.5" stroke="#9c8d80" stroke-width="1" />
<line x1="344.5" y1="737" x2="344.5" y2="756.5" stroke="#ffffff" stroke-width="1" />
<rect x="350.5" y="736.5" width="75" height="19" rx="0" fill="#fff" stroke="#bcb2aa" stroke-width="1" />
<text x="355.5" y="750" font-size="11" fill="#000" textLength="15.5" lengthAdjust="spacingAndGlyphs" >0 V</text>
<g>
<rect x="409.5" y="738.5" width="14" height="15" rx="2.6" fill="#fff" stroke="#8c7768" stroke-width="1" />
<rect x="411" y="742" width="11" height="3" rx="0" fill="#ece6d9" />
<rect x="411" y="748" width="11" height="4" rx="0" fill="#ece6d9" />
<line x1="410" y1="746.5" x2="423" y2="746.5" stroke="#8c7768" stroke-width="1" />
<path d="M414.2,745.1 L416.5,742.5000000000001 L418.8,745.1" fill="none" stroke="#fff" stroke-width="1.1"/>
<path d="M414.2,743.9 L416.5,741.3000000000001 L418.8,743.9" fill="none" stroke="#5a4a40" stroke-width="1.1"/>
<path d="M414.2,750.1000000000001 L416.5,752.7 L418.8,750.1000000000001" fill="none" stroke="#fff" stroke-width="1.1"/>
<path d="M414.2,748.9000000000001 L416.5,751.5 L418.8,748.9000000000001" fill="none" stroke="#5a4a40" stroke-width="1.1"/>
</g>
<line x1="431.5" y1="737" x2="431.5" y2="756.5" stroke="#9c8d80" stroke-width="1" />
<line x1="432.5" y1="737" x2="432.5" y2="756.5" stroke="#ffffff" stroke-width="1" />
<rect x="437.5" y="736.5" width="75" height="19" rx="0" fill="#fff" stroke="#bcb2aa" stroke-width="1" />
<text x="442.5" y="750" font-size="11" fill="#000" textLength="25" lengthAdjust="spacingAndGlyphs" >50 %</text>
<g>
<rect x="496.5" y="738.5" width="14" height="15" rx="2.6" fill="#fff" stroke="#8c7768" stroke-width="1" />
<rect x="498" y="742" width="11" height="3" rx="0" fill="#ece6d9" />
<rect x="498" y="748" width="11" height="4" rx="0" fill="#ece6d9" />
<line x1="497" y1="746.5" x2="510" y2="746.5" stroke="#8c7768" stroke-width="1" />
<path d="M501.2,745.1 L503.5,742.5000000000001 L505.8,745.1" fill="none" stroke="#fff" stroke-width="1.1"/>
<path d="M501.2,743.9 L503.5,741.3000000000001 L505.8,743.9" fill="none" stroke="#5a4a40" stroke-width="1.1"/>
<path d="M501.2,750.1000000000001 L503.5,752.7 L505.8,750.1000000000001" fill="none" stroke="#fff" stroke-width="1.1"/>
<path d="M501.2,748.9000000000001 L503.5,751.5 L505.8,748.9000000000001" fill="none" stroke="#5a4a40" stroke-width="1.1"/>
</g>
<path d="M519.6,745 C521.4,741.4 523.4,741.4 525.2,745.6 C527,750 529.4,750.6 531.6,746.8" fill="none" stroke="#a0a0a0" stroke-width="1.1"/>
<path d="M520.4,740.8 H530.6 M520.4,738.6 V743 M528.6,738.8 L530.8,740.8 L528.6,742.8" fill="none" stroke="#8c9cf0" stroke-width="1"/>
<path d="M531.8,742.6 L534,745 L531.8,747.4 L529.6,745 Z" fill="#f8f0a0" stroke="#c8c090" stroke-width=".6"/>
<rect x="540.5" y="736.5" width="75" height="19" rx="0" fill="#fff" stroke="#bcb2aa" stroke-width="1" />
<text x="545.5" y="750" font-size="11" fill="#b4b4b4" textLength="13.5" lengthAdjust="spacingAndGlyphs" >0 s</text>
<g opacity=".42">
<rect x="599.5" y="738.5" width="14" height="15" rx="2.6" fill="#fff" stroke="#8c7768" stroke-width="1" />
<rect x="601" y="742" width="11" height="3" rx="0" fill="#ece6d9" />
<rect x="601" y="748" width="11" height="4" rx="0" fill="#ece6d9" />
<line x1="600" y1="746.5" x2="613" y2="746.5" stroke="#8c7768" stroke-width="1" />
<path d="M604.2,745.1 L606.5,742.5000000000001 L608.8,745.1" fill="none" stroke="#fff" stroke-width="1.1"/>
<path d="M604.2,743.9 L606.5,741.3000000000001 L608.8,743.9" fill="none" stroke="#5a4a40" stroke-width="1.1"/>
<path d="M604.2,750.1000000000001 L606.5,752.7 L608.8,750.1000000000001" fill="none" stroke="#fff" stroke-width="1.1"/>
<path d="M604.2,748.9000000000001 L606.5,751.5 L608.8,748.9000000000001" fill="none" stroke="#5a4a40" stroke-width="1.1"/>
</g>
<line x1="620.5" y1="737" x2="620.5" y2="756.5" stroke="#9c8d80" stroke-width="1" />
<line x1="621.5" y1="737" x2="621.5" y2="756.5" stroke="#ffffff" stroke-width="1" />
<rect x="628.65" y="738.65" width="14.2" height="13.7" rx="1.5" fill="url(#gPlus)" stroke="#0c5c0c" stroke-width="1.3" />
<path d="M631.4,745.5 H640.2 M635.8,741.2 V749.8" stroke="#fff" stroke-width="2.2"/>
<rect x="651" y="738.5" width="14.5" height="14" rx="1.5" fill="#bcdcb4" stroke="#a8cca0" stroke-width="1" />
<path d="M654,745.6 H662.6" stroke="#e8f4e4" stroke-width="2.2"/>
<rect x="672.5" y="738.5" width="14.5" height="14" rx="1.5" fill="#bcdcb4" stroke="#a8cca0" stroke-width="1" />
<path d="M675.6,748.4 L679.8,742.6 L684,748.4 Z" fill="#e8f4e4"/>
</svg>
</body>
</html>
